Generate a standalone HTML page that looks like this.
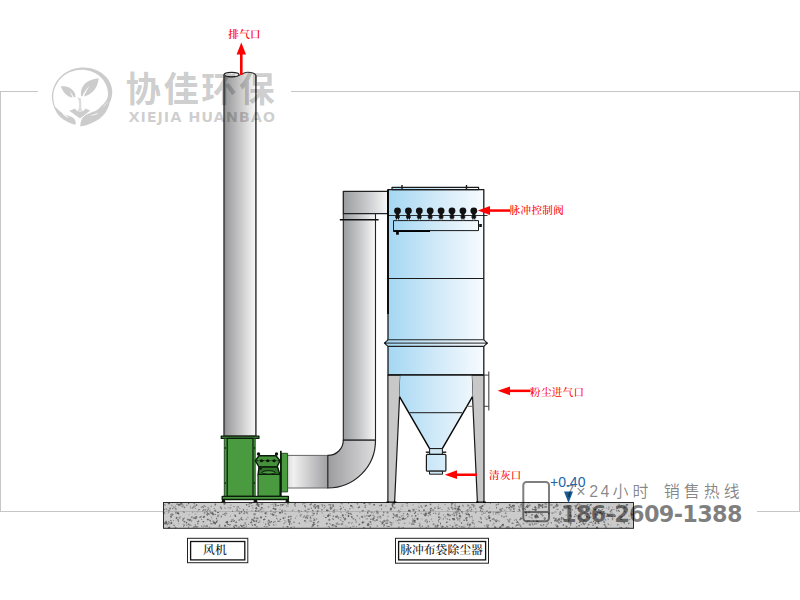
<!DOCTYPE html>
<html lang="zh-CN">
<head>
<meta charset="utf-8">
<title>脉冲布袋除尘器</title>
<style>
html,body{margin:0;padding:0;background:#fff;}
body{width:800px;height:600px;overflow:hidden;position:relative;font-family:"Liberation Sans","Noto Sans CJK SC",sans-serif;}
svg{display:block;position:absolute;left:0;top:0;}
.lbl{font-family:"Liberation Serif","Noto Serif CJK SC",serif;fill:#ff0000;font-size:10.5px;font-weight:500;letter-spacing:.4px;}
.cap{font-family:"Liberation Serif","Noto Serif CJK SC",serif;fill:#111;font-size:11.8px;font-weight:500;}
.wm1{font-family:"Liberation Sans","Noto Sans CJK SC",sans-serif;font-weight:700;font-size:35.4px;fill:#000;fill-opacity:.21;letter-spacing:2.5px;}
.wm2{font-family:"DejaVu Sans","Liberation Sans",sans-serif;font-weight:700;font-size:14.6px;fill:#000;fill-opacity:.2;letter-spacing:.85px;}
.tel1{font-family:"Liberation Sans","Noto Sans CJK SC",sans-serif;font-weight:400;font-size:16px;fill:#000;fill-opacity:.48;}
.tel2{font-family:"DejaVu Sans","Liberation Sans",sans-serif;font-weight:700;font-size:22.4px;fill:#000;fill-opacity:.5;letter-spacing:-.7px;}
.blue{font-family:"Liberation Sans",sans-serif;font-size:14px;fill:#1b64a5;}
</style>
</head>
<body>
<svg width="800" height="600" viewBox="0 0 800 600">
<defs>
<linearGradient id="gPipe" x1="0" x2="1" y1="0" y2="0"><stop offset="0" stop-color="#969698"/><stop offset=".5" stop-color="#c6c6c7"/><stop offset="1" stop-color="#f8f8f8"/></linearGradient>
<linearGradient id="gDuct" x1="0" x2="1" y1="0" y2="0"><stop offset="0" stop-color="#9a9c9f"/><stop offset=".5" stop-color="#c6c7c9"/><stop offset="1" stop-color="#f8f8f8"/></linearGradient>
<linearGradient id="gElb" x1="0" x2="1" y1="0" y2="0"><stop offset="0" stop-color="#9c9ca0"/><stop offset="1" stop-color="#dedede"/></linearGradient>
<linearGradient id="gHd" x1="0" x2="1" y1="0" y2="0"><stop offset="0" stop-color="#dedede"/><stop offset=".14" stop-color="#f0f0f0"/><stop offset=".5" stop-color="#cfcfd0"/><stop offset="1" stop-color="#a0a0a3"/></linearGradient>
<linearGradient id="gBlue" x1="0" x2="1" y1="0" y2="0"><stop offset="0" stop-color="#a4d7f3"/><stop offset=".5" stop-color="#d0e9f8"/><stop offset="1" stop-color="#f7fbfe"/></linearGradient>
<linearGradient id="gBlueU" gradientUnits="userSpaceOnUse" x1="388" x2="484" y1="0" y2="0"><stop offset="0" stop-color="#a4d7f3"/><stop offset=".5" stop-color="#d0e9f8"/><stop offset="1" stop-color="#f7fbfe"/></linearGradient>
</defs>

<!-- frame -->
<g fill="#c6c6c6">
<rect x="0" y="91" width="38" height="1"/>
<rect x="291" y="91" width="509" height="1"/>
<rect x="0" y="91" width="1" height="421"/>
<rect x="799" y="91" width="1" height="421"/>
<rect x="0" y="511" width="164" height="1"/>
<rect x="757" y="511" width="43" height="1"/>
</g>

<!-- ground slab -->
<g>
<rect x="163.5" y="502.5" width="470" height="26" fill="#cbcbcb"/>
<g transform="translate(163.5,502.5)"><rect x="151.4" y="4.0" width="2" height="1" rx=".5" fill="#5e5e5e" transform="rotate(-45 152.4 4.5)"/><rect x="251.3" y="8.7" width="1" height="2" rx=".5" fill="#6a6a6a" transform="rotate(0 251.8 9.7)"/><rect x="40.3" y="10.5" width="1" height="1" rx=".5" fill="#8e8e8e" transform="rotate(45 40.8 11.0)"/><rect x="27.7" y="13.6" width="1" height="2" rx=".5" fill="#5e5e5e" transform="rotate(60 28.2 14.6)"/><rect x="274.6" y="1.5" width="1" height="1" rx=".5" fill="#8e8e8e" transform="rotate(-45 275.1 2.0)"/><rect x="62.0" y="10.5" width="2" height="1" rx=".5" fill="#8e8e8e" transform="rotate(30 63.0 11.0)"/><rect x="262.8" y="16.4" width="1" height="2" rx=".5" fill="#8e8e8e" transform="rotate(-30 263.3 17.4)"/><rect x="87.6" y="2.7" width="2" height="1" rx=".5" fill="#8e8e8e" transform="rotate(0 88.6 3.2)"/><rect x="289.8" y="12.2" width="2" height="1.5" rx=".5" fill="#787878" transform="rotate(45 290.8 12.9)"/><rect x="274.4" y="11.4" width="1.5" height="1" rx=".5" fill="#6a6a6a" transform="rotate(-30 275.1 11.9)"/><rect x="365.5" y="1.8" width="1.5" height="2" rx=".5" fill="#848484" transform="rotate(30 366.2 2.8)"/><rect x="342.1" y="7.3" width="1" height="1" rx=".5" fill="#8e8e8e" transform="rotate(45 342.6 7.8)"/><rect x="77.1" y="8.4" width="1.5" height="1.5" rx=".5" fill="#5e5e5e" transform="rotate(-30 77.9 9.1)"/><rect x="35.7" y="13.7" width="2.5" height="1.5" rx=".5" fill="#787878" transform="rotate(-30 36.9 14.4)"/><rect x="163.5" y="12.2" width="2.5" height="1.5" rx=".5" fill="#5e5e5e" transform="rotate(-45 164.7 12.9)"/><rect x="43.4" y="6.9" width="2" height="1" rx=".5" fill="#5e5e5e" transform="rotate(-30 44.4 7.4)"/><rect x="328.5" y="15.8" width="2" height="1.5" rx=".5" fill="#787878" transform="rotate(-30 329.5 16.6)"/><rect x="180.9" y="16.4" width="1" height="1.5" rx=".5" fill="#787878" transform="rotate(0 181.4 17.1)"/><rect x="286.5" y="12.1" width="1" height="1.5" rx=".5" fill="#6a6a6a" transform="rotate(-30 287.0 12.8)"/><rect x="115.4" y="9.6" width="2.5" height="1.5" rx=".5" fill="#5e5e5e" transform="rotate(0 116.6 10.3)"/><rect x="210.7" y="13.5" width="1" height="1.5" rx=".5" fill="#8e8e8e" transform="rotate(30 211.2 14.2)"/><rect x="330.8" y="24.1" width="2" height="1.5" rx=".5" fill="#6a6a6a" transform="rotate(0 331.8 24.9)"/><rect x="38.4" y="4.0" width="2" height="1" rx=".5" fill="#5e5e5e" transform="rotate(45 39.4 4.5)"/><rect x="389.5" y="4.7" width="1.5" height="1" rx=".5" fill="#6a6a6a" transform="rotate(45 390.3 5.2)"/><rect x="250.5" y="15.2" width="1.5" height="1" rx=".5" fill="#9c9c9c" transform="rotate(-45 251.2 15.7)"/><rect x="241.3" y="15.4" width="2" height="1" rx=".5" fill="#848484" transform="rotate(-45 242.3 15.9)"/><rect x="365.1" y="21.1" width="2.5" height="2" rx=".5" fill="#848484" transform="rotate(45 366.3 22.1)"/><rect x="186.6" y="2.6" width="2" height="1.5" rx=".5" fill="#5e5e5e" transform="rotate(0 187.6 3.3)"/><rect x="31.6" y="5.4" width="1" height="1" rx=".5" fill="#787878" transform="rotate(60 32.1 5.9)"/><rect x="24.7" y="-0.2" width="1" height="2" rx=".5" fill="#5e5e5e" transform="rotate(30 25.2 0.8)"/><rect x="287.8" y="1.5" width="1" height="2" rx=".5" fill="#848484" transform="rotate(0 288.3 2.5)"/><rect x="297.0" y="23.4" width="2" height="1.5" rx=".5" fill="#848484" transform="rotate(0 298.0 24.1)"/><rect x="53.9" y="12.0" width="1.5" height="1.5" rx=".5" fill="#848484" transform="rotate(30 54.6 12.7)"/><rect x="40.0" y="2.5" width="1.5" height="1.5" rx=".5" fill="#848484" transform="rotate(-45 40.8 3.3)"/><rect x="324.6" y="12.4" width="1" height="2" rx=".5" fill="#787878" transform="rotate(0 325.1 13.4)"/><rect x="322.9" y="22.1" width="2.5" height="2" rx=".5" fill="#787878" transform="rotate(-30 324.1 23.1)"/><rect x="404.6" y="16.8" width="1.5" height="2" rx=".5" fill="#787878" transform="rotate(0 405.4 17.8)"/><rect x="166.3" y="5.2" width="2" height="2" rx=".5" fill="#787878" transform="rotate(-30 167.3 6.2)"/><rect x="103.9" y="20.1" width="2.5" height="1" rx=".5" fill="#6a6a6a" transform="rotate(-45 105.1 20.6)"/><rect x="187.9" y="19.4" width="1" height="2" rx=".5" fill="#848484" transform="rotate(30 188.4 20.4)"/><rect x="342.1" y="24.2" width="2.5" height="1.5" rx=".5" fill="#848484" transform="rotate(30 343.3 24.9)"/><rect x="90.6" y="14.8" width="1.5" height="1.5" rx=".5" fill="#9c9c9c" transform="rotate(30 91.3 15.6)"/><rect x="447.9" y="9.2" width="1" height="1" rx=".5" fill="#6a6a6a" transform="rotate(45 448.4 9.7)"/><rect x="91.8" y="4.8" width="2" height="2" rx=".5" fill="#5e5e5e" transform="rotate(45 92.8 5.8)"/><rect x="425.9" y="8.7" width="2" height="1" rx=".5" fill="#9c9c9c" transform="rotate(0 426.9 9.2)"/><rect x="425.9" y="19.4" width="2.5" height="1" rx=".5" fill="#848484" transform="rotate(0 427.2 19.9)"/><rect x="203.5" y="15.6" width="1" height="1.5" rx=".5" fill="#848484" transform="rotate(45 204.0 16.3)"/><rect x="348.6" y="2.4" width="1" height="1" rx=".5" fill="#6a6a6a" transform="rotate(0 349.1 2.9)"/><rect x="70.1" y="22.4" width="2.5" height="1" rx=".5" fill="#8e8e8e" transform="rotate(-45 71.4 22.9)"/><rect x="279.2" y="11.9" width="1.5" height="1" rx=".5" fill="#8e8e8e" transform="rotate(60 280.0 12.4)"/><rect x="60.9" y="0.6" width="2" height="1" rx=".5" fill="#8e8e8e" transform="rotate(-30 61.9 1.1)"/><rect x="437.1" y="10.9" width="2.5" height="1" rx=".5" fill="#6a6a6a" transform="rotate(0 438.4 11.4)"/><rect x="118.1" y="6.9" width="1" height="2" rx=".5" fill="#787878" transform="rotate(30 118.6 7.9)"/><rect x="255.3" y="20.4" width="1" height="1.5" rx=".5" fill="#848484" transform="rotate(-30 255.8 21.2)"/><rect x="273.3" y="21.9" width="1.5" height="2" rx=".5" fill="#6a6a6a" transform="rotate(60 274.1 22.9)"/><rect x="70.5" y="12.5" width="2.5" height="1.5" rx=".5" fill="#6a6a6a" transform="rotate(60 71.7 13.3)"/><rect x="1.8" y="19.8" width="1" height="1" rx=".5" fill="#848484" transform="rotate(60 2.3 20.3)"/><rect x="339.9" y="13.4" width="1.5" height="2" rx=".5" fill="#8e8e8e" transform="rotate(60 340.6 14.4)"/><rect x="225.8" y="19.2" width="2" height="1" rx=".5" fill="#6a6a6a" transform="rotate(0 226.8 19.7)"/><rect x="129.4" y="18.9" width="2" height="1.5" rx=".5" fill="#8e8e8e" transform="rotate(0 130.4 19.6)"/><rect x="356.2" y="22.3" width="1.5" height="1.5" rx=".5" fill="#8e8e8e" transform="rotate(60 356.9 23.1)"/><rect x="284.0" y="4.9" width="1.5" height="1.5" rx=".5" fill="#8e8e8e" transform="rotate(60 284.8 5.7)"/><rect x="378.7" y="12.2" width="1" height="2" rx=".5" fill="#787878" transform="rotate(60 379.2 13.2)"/><rect x="418.5" y="5.2" width="1.5" height="1" rx=".5" fill="#848484" transform="rotate(0 419.2 5.7)"/><rect x="183.5" y="8.0" width="2" height="1" rx=".5" fill="#848484" transform="rotate(0 184.5 8.5)"/><rect x="99.8" y="7.7" width="1" height="1" rx=".5" fill="#9c9c9c" transform="rotate(-30 100.3 8.2)"/><rect x="309.7" y="3.5" width="1" height="1.5" rx=".5" fill="#6a6a6a" transform="rotate(-30 310.2 4.3)"/><rect x="446.5" y="10.0" width="1.5" height="1" rx=".5" fill="#9c9c9c" transform="rotate(-45 447.2 10.5)"/><rect x="104.4" y="17.3" width="2" height="1.5" rx=".5" fill="#787878" transform="rotate(45 105.4 18.0)"/><rect x="91.3" y="7.8" width="2" height="1.5" rx=".5" fill="#5e5e5e" transform="rotate(30 92.3 8.6)"/><rect x="259.8" y="10.8" width="1" height="1.5" rx=".5" fill="#787878" transform="rotate(60 260.3 11.5)"/><rect x="292.6" y="12.8" width="1" height="1" rx=".5" fill="#6a6a6a" transform="rotate(0 293.1 13.3)"/><rect x="38.7" y="6.9" width="2.5" height="1" rx=".5" fill="#787878" transform="rotate(-45 39.9 7.4)"/><rect x="60.3" y="10.4" width="2" height="1.5" rx=".5" fill="#848484" transform="rotate(0 61.3 11.1)"/><rect x="251.4" y="12.6" width="1.5" height="1.5" rx=".5" fill="#5e5e5e" transform="rotate(30 252.2 13.4)"/><rect x="26.7" y="17.1" width="1.5" height="1" rx=".5" fill="#787878" transform="rotate(0 27.5 17.6)"/><rect x="297.6" y="19.4" width="1" height="2" rx=".5" fill="#6a6a6a" transform="rotate(0 298.1 20.4)"/><rect x="124.0" y="3.0" width="1" height="1.5" rx=".5" fill="#8e8e8e" transform="rotate(45 124.5 3.8)"/><rect x="434.6" y="6.8" width="1" height="1" rx=".5" fill="#8e8e8e" transform="rotate(-30 435.1 7.3)"/><rect x="111.8" y="2.7" width="1" height="1.5" rx=".5" fill="#5e5e5e" transform="rotate(0 112.3 3.5)"/><rect x="94.4" y="7.4" width="1.5" height="2" rx=".5" fill="#6a6a6a" transform="rotate(30 95.1 8.4)"/><rect x="208.8" y="16.5" width="1.5" height="1.5" rx=".5" fill="#5e5e5e" transform="rotate(30 209.5 17.2)"/><rect x="16.8" y="0.2" width="2" height="2" rx=".5" fill="#6a6a6a" transform="rotate(60 17.8 1.2)"/><rect x="222.7" y="22.9" width="1" height="1.5" rx=".5" fill="#9c9c9c" transform="rotate(45 223.2 23.6)"/><rect x="255.5" y="21.7" width="2" height="1.5" rx=".5" fill="#9c9c9c" transform="rotate(0 256.5 22.5)"/><rect x="460.0" y="8.7" width="2.5" height="1" rx=".5" fill="#848484" transform="rotate(30 461.3 9.2)"/><rect x="460.5" y="20.7" width="1" height="1" rx=".5" fill="#9c9c9c" transform="rotate(-30 461.0 21.2)"/><rect x="412.7" y="10.8" width="1" height="1" rx=".5" fill="#9c9c9c" transform="rotate(-45 413.2 11.3)"/><rect x="178.4" y="12.1" width="1.5" height="2" rx=".5" fill="#6a6a6a" transform="rotate(-30 179.1 13.1)"/><rect x="137.4" y="11.3" width="1" height="1.5" rx=".5" fill="#848484" transform="rotate(0 137.9 12.0)"/><rect x="123.0" y="23.5" width="2" height="1.5" rx=".5" fill="#6a6a6a" transform="rotate(0 124.0 24.3)"/><rect x="452.6" y="7.9" width="1.5" height="1" rx=".5" fill="#5e5e5e" transform="rotate(30 453.4 8.4)"/><rect x="178.5" y="11.9" width="2" height="1" rx=".5" fill="#6a6a6a" transform="rotate(60 179.5 12.4)"/><rect x="363.3" y="2.5" width="2.5" height="1" rx=".5" fill="#6a6a6a" transform="rotate(45 364.6 3.0)"/><rect x="275.0" y="9.7" width="1.5" height="1.5" rx=".5" fill="#9c9c9c" transform="rotate(0 275.7 10.4)"/><rect x="38.9" y="23.7" width="2.5" height="1" rx=".5" fill="#9c9c9c" transform="rotate(-30 40.1 24.2)"/><rect x="367.0" y="14.6" width="2.5" height="1.5" rx=".5" fill="#9c9c9c" transform="rotate(45 368.2 15.4)"/><rect x="69.6" y="18.0" width="2" height="1" rx=".5" fill="#5e5e5e" transform="rotate(-45 70.6 18.5)"/><rect x="391.3" y="21.8" width="2" height="1.5" rx=".5" fill="#9c9c9c" transform="rotate(-30 392.3 22.6)"/><rect x="380.4" y="3.2" width="2" height="2" rx=".5" fill="#8e8e8e" transform="rotate(-45 381.4 4.2)"/><rect x="380.8" y="0.2" width="2" height="2" rx=".5" fill="#9c9c9c" transform="rotate(-30 381.8 1.2)"/><rect x="448.4" y="16.0" width="1" height="1" rx=".5" fill="#5e5e5e" transform="rotate(0 448.9 16.5)"/><rect x="298.6" y="23.5" width="1.5" height="1.5" rx=".5" fill="#8e8e8e" transform="rotate(0 299.3 24.2)"/><rect x="293.9" y="15.6" width="2" height="1" rx=".5" fill="#848484" transform="rotate(30 294.9 16.1)"/><rect x="1.1" y="19.3" width="2" height="2" rx=".5" fill="#8e8e8e" transform="rotate(0 2.1 20.3)"/><rect x="308.7" y="1.7" width="2" height="1.5" rx=".5" fill="#787878" transform="rotate(-45 309.7 2.4)"/><rect x="34.4" y="6.8" width="2" height="1" rx=".5" fill="#6a6a6a" transform="rotate(-30 35.4 7.3)"/><rect x="304.1" y="11.3" width="2.5" height="1.5" rx=".5" fill="#5e5e5e" transform="rotate(45 305.3 12.0)"/><rect x="427.0" y="6.8" width="1" height="2" rx=".5" fill="#9c9c9c" transform="rotate(-30 427.5 7.8)"/><rect x="92.7" y="14.7" width="1.5" height="1.5" rx=".5" fill="#9c9c9c" transform="rotate(-30 93.5 15.4)"/><rect x="325.0" y="15.5" width="1" height="1" rx=".5" fill="#848484" transform="rotate(0 325.5 16.0)"/><rect x="227.8" y="24.0" width="1" height="1" rx=".5" fill="#9c9c9c" transform="rotate(45 228.3 24.5)"/><rect x="136.2" y="12.7" width="1.5" height="1.5" rx=".5" fill="#848484" transform="rotate(-45 136.9 13.4)"/><rect x="55.6" y="21.9" width="1" height="1.5" rx=".5" fill="#5e5e5e" transform="rotate(45 56.1 22.6)"/><rect x="7.5" y="11.0" width="2.5" height="2" rx=".5" fill="#848484" transform="rotate(30 8.7 12.0)"/><rect x="181.4" y="22.7" width="1" height="1" rx=".5" fill="#8e8e8e" transform="rotate(0 181.9 23.2)"/><rect x="66.2" y="13.1" width="1.5" height="1" rx=".5" fill="#8e8e8e" transform="rotate(-45 67.0 13.6)"/><rect x="296.3" y="6.9" width="1" height="1.5" rx=".5" fill="#6a6a6a" transform="rotate(45 296.8 7.6)"/><rect x="421.0" y="12.2" width="1" height="1" rx=".5" fill="#5e5e5e" transform="rotate(45 421.5 12.7)"/><rect x="319.2" y="10.2" width="2" height="1" rx=".5" fill="#848484" transform="rotate(30 320.2 10.7)"/><rect x="176.1" y="3.3" width="1.5" height="1" rx=".5" fill="#787878" transform="rotate(-45 176.9 3.8)"/><rect x="158.6" y="10.0" width="1" height="1" rx=".5" fill="#9c9c9c" transform="rotate(30 159.1 10.5)"/><rect x="118.5" y="1.4" width="1.5" height="2" rx=".5" fill="#5e5e5e" transform="rotate(30 119.3 2.4)"/><rect x="433.3" y="18.7" width="2.5" height="1" rx=".5" fill="#787878" transform="rotate(0 434.5 19.2)"/><rect x="23.7" y="16.5" width="2" height="1" rx=".5" fill="#6a6a6a" transform="rotate(30 24.7 17.0)"/><rect x="203.8" y="7.8" width="2.5" height="1.5" rx=".5" fill="#848484" transform="rotate(0 205.1 8.5)"/><rect x="380.3" y="15.2" width="2" height="2" rx=".5" fill="#6a6a6a" transform="rotate(-30 381.3 16.2)"/><rect x="37.5" y="22.8" width="1.5" height="1.5" rx=".5" fill="#8e8e8e" transform="rotate(-45 38.3 23.6)"/><rect x="64.7" y="21.5" width="1.5" height="1" rx=".5" fill="#8e8e8e" transform="rotate(0 65.5 22.0)"/><rect x="79.8" y="10.2" width="1.5" height="1.5" rx=".5" fill="#787878" transform="rotate(-30 80.6 10.9)"/><rect x="346.2" y="16.2" width="1.5" height="1" rx=".5" fill="#787878" transform="rotate(45 347.0 16.7)"/><rect x="261.4" y="9.9" width="1" height="1" rx=".5" fill="#5e5e5e" transform="rotate(0 261.9 10.4)"/><rect x="234.3" y="20.1" width="2" height="1" rx=".5" fill="#848484" transform="rotate(30 235.3 20.6)"/><rect x="467.3" y="10.8" width="1" height="2" rx=".5" fill="#6a6a6a" transform="rotate(0 467.8 11.8)"/><rect x="42.5" y="8.4" width="1" height="1.5" rx=".5" fill="#6a6a6a" transform="rotate(30 43.0 9.1)"/><rect x="121.2" y="13.9" width="1" height="1.5" rx=".5" fill="#848484" transform="rotate(45 121.7 14.7)"/><rect x="349.5" y="5.2" width="1.5" height="1.5" rx=".5" fill="#5e5e5e" transform="rotate(45 350.3 5.9)"/><rect x="130.2" y="23.4" width="1" height="2" rx=".5" fill="#8e8e8e" transform="rotate(-30 130.7 24.4)"/><rect x="370.7" y="20.8" width="1" height="1.5" rx=".5" fill="#6a6a6a" transform="rotate(45 371.2 21.5)"/><rect x="187.2" y="11.2" width="1.5" height="1" rx=".5" fill="#6a6a6a" transform="rotate(0 188.0 11.7)"/><rect x="198.7" y="18.7" width="2.5" height="1.5" rx=".5" fill="#8e8e8e" transform="rotate(45 199.9 19.4)"/><rect x="-0.7" y="9.4" width="2.5" height="2" rx=".5" fill="#848484" transform="rotate(45 0.6 10.4)"/><rect x="116.5" y="3.0" width="1" height="1" rx=".5" fill="#8e8e8e" transform="rotate(-30 117.0 3.5)"/><rect x="50.6" y="20.2" width="2" height="1.5" rx=".5" fill="#5e5e5e" transform="rotate(60 51.6 20.9)"/><rect x="364.3" y="0.3" width="1" height="1" rx=".5" fill="#8e8e8e" transform="rotate(0 364.8 0.8)"/><rect x="302.7" y="7.5" width="1" height="1.5" rx=".5" fill="#8e8e8e" transform="rotate(-30 303.2 8.2)"/><rect x="205.2" y="18.9" width="1" height="1" rx=".5" fill="#787878" transform="rotate(60 205.7 19.4)"/><rect x="442.3" y="5.0" width="1.5" height="1" rx=".5" fill="#8e8e8e" transform="rotate(0 443.0 5.5)"/><rect x="4.7" y="7.4" width="1.5" height="1.5" rx=".5" fill="#787878" transform="rotate(-30 5.4 8.2)"/><rect x="393.2" y="6.2" width="2" height="1" rx=".5" fill="#8e8e8e" transform="rotate(0 394.2 6.7)"/><rect x="13.2" y="10.1" width="2" height="1.5" rx=".5" fill="#5e5e5e" transform="rotate(0 14.2 10.8)"/><rect x="90.5" y="21.6" width="2" height="1.5" rx=".5" fill="#5e5e5e" transform="rotate(30 91.5 22.4)"/><rect x="106.6" y="10.7" width="1.5" height="1" rx=".5" fill="#848484" transform="rotate(0 107.4 11.2)"/><rect x="326.1" y="17.6" width="1.5" height="1.5" rx=".5" fill="#6a6a6a" transform="rotate(0 326.8 18.3)"/><rect x="373.3" y="18.3" width="2" height="1" rx=".5" fill="#6a6a6a" transform="rotate(45 374.3 18.8)"/><rect x="454.1" y="7.9" width="2.5" height="1" rx=".5" fill="#6a6a6a" transform="rotate(45 455.4 8.4)"/><rect x="103.6" y="18.9" width="1.5" height="1" rx=".5" fill="#8e8e8e" transform="rotate(45 104.4 19.4)"/><rect x="285.9" y="21.9" width="1.5" height="1.5" rx=".5" fill="#9c9c9c" transform="rotate(0 286.6 22.7)"/><rect x="444.7" y="3.9" width="1.5" height="1" rx=".5" fill="#6a6a6a" transform="rotate(0 445.5 4.4)"/><rect x="456.9" y="3.8" width="1" height="1" rx=".5" fill="#6a6a6a" transform="rotate(45 457.4 4.3)"/><rect x="210.6" y="17.7" width="1.5" height="1" rx=".5" fill="#5e5e5e" transform="rotate(0 211.4 18.2)"/><rect x="153.9" y="4.6" width="2" height="1.5" rx=".5" fill="#5e5e5e" transform="rotate(30 154.9 5.3)"/><rect x="311.4" y="9.3" width="1.5" height="1.5" rx=".5" fill="#848484" transform="rotate(0 312.1 10.0)"/><rect x="51.1" y="2.0" width="1" height="1.5" rx=".5" fill="#848484" transform="rotate(0 51.6 2.7)"/><rect x="262.9" y="18.6" width="1.5" height="1.5" rx=".5" fill="#787878" transform="rotate(-45 263.7 19.3)"/><rect x="376.5" y="2.2" width="2" height="1.5" rx=".5" fill="#6a6a6a" transform="rotate(30 377.5 2.9)"/><rect x="253.7" y="10.9" width="1.5" height="1.5" rx=".5" fill="#9c9c9c" transform="rotate(45 254.5 11.7)"/><rect x="13.5" y="10.1" width="2.5" height="1.5" rx=".5" fill="#5e5e5e" transform="rotate(45 14.7 10.8)"/><rect x="16.3" y="1.6" width="1" height="1.5" rx=".5" fill="#6a6a6a" transform="rotate(-30 16.8 2.3)"/><rect x="29.2" y="14.8" width="1.5" height="1.5" rx=".5" fill="#787878" transform="rotate(60 30.0 15.6)"/><rect x="19.9" y="18.3" width="2" height="1.5" rx=".5" fill="#787878" transform="rotate(30 20.9 19.0)"/><rect x="1.0" y="18.7" width="2.5" height="1" rx=".5" fill="#5e5e5e" transform="rotate(-45 2.3 19.2)"/><rect x="109.4" y="11.6" width="1.5" height="1.5" rx=".5" fill="#787878" transform="rotate(45 110.2 12.4)"/><rect x="381.9" y="3.5" width="1.5" height="1" rx=".5" fill="#5e5e5e" transform="rotate(-45 382.6 4.0)"/><rect x="436.2" y="7.7" width="2" height="1" rx=".5" fill="#8e8e8e" transform="rotate(0 437.2 8.2)"/><rect x="153.5" y="7.6" width="1.5" height="2" rx=".5" fill="#5e5e5e" transform="rotate(60 154.2 8.6)"/><rect x="92.5" y="18.4" width="1" height="1.5" rx=".5" fill="#5e5e5e" transform="rotate(-30 93.0 19.2)"/><rect x="15.6" y="13.8" width="1.5" height="1" rx=".5" fill="#848484" transform="rotate(0 16.4 14.3)"/><rect x="463.3" y="6.8" width="1" height="1" rx=".5" fill="#5e5e5e" transform="rotate(45 463.8 7.3)"/><rect x="233.5" y="17.6" width="1.5" height="1" rx=".5" fill="#6a6a6a" transform="rotate(0 234.3 18.1)"/><rect x="195.0" y="15.4" width="2" height="1" rx=".5" fill="#9c9c9c" transform="rotate(60 196.0 15.9)"/><rect x="397.2" y="16.3" width="1" height="1.5" rx=".5" fill="#787878" transform="rotate(30 397.7 17.0)"/><rect x="265.4" y="9.2" width="2" height="1.5" rx=".5" fill="#6a6a6a" transform="rotate(45 266.4 9.9)"/><rect x="116.0" y="6.0" width="1" height="1.5" rx=".5" fill="#8e8e8e" transform="rotate(0 116.5 6.8)"/><rect x="153.1" y="9.5" width="1" height="2" rx=".5" fill="#8e8e8e" transform="rotate(0 153.6 10.5)"/><rect x="304.4" y="2.8" width="1.5" height="1" rx=".5" fill="#5e5e5e" transform="rotate(0 305.2 3.3)"/><rect x="221.9" y="20.0" width="2.5" height="1.5" rx=".5" fill="#787878" transform="rotate(0 223.2 20.8)"/><rect x="411.3" y="6.0" width="1" height="1" rx=".5" fill="#8e8e8e" transform="rotate(-45 411.8 6.5)"/><rect x="273.3" y="22.5" width="1.5" height="2" rx=".5" fill="#6a6a6a" transform="rotate(45 274.0 23.5)"/><rect x="282.3" y="19.2" width="2" height="1" rx=".5" fill="#5e5e5e" transform="rotate(-30 283.3 19.7)"/><rect x="279.6" y="15.4" width="1" height="1" rx=".5" fill="#787878" transform="rotate(30 280.1 15.9)"/><rect x="66.1" y="5.3" width="1.5" height="1" rx=".5" fill="#8e8e8e" transform="rotate(-30 66.8 5.8)"/><rect x="305.6" y="5.0" width="1" height="1.5" rx=".5" fill="#848484" transform="rotate(-30 306.1 5.8)"/><rect x="174.4" y="15.5" width="1" height="1" rx=".5" fill="#5e5e5e" transform="rotate(-45 174.9 16.0)"/><rect x="232.2" y="12.1" width="1.5" height="1" rx=".5" fill="#848484" transform="rotate(-30 232.9 12.6)"/><rect x="258.0" y="15.9" width="1" height="1" rx=".5" fill="#848484" transform="rotate(-30 258.5 16.4)"/><rect x="126.7" y="24.2" width="2" height="1.5" rx=".5" fill="#848484" transform="rotate(0 127.7 24.9)"/><rect x="146.2" y="13.9" width="1.5" height="1.5" rx=".5" fill="#848484" transform="rotate(0 147.0 14.6)"/><rect x="405.1" y="24.6" width="1.5" height="1" rx=".5" fill="#848484" transform="rotate(-30 405.8 25.1)"/><rect x="189.7" y="23.3" width="1.5" height="1" rx=".5" fill="#848484" transform="rotate(0 190.4 23.8)"/><rect x="384.5" y="10.0" width="1.5" height="1.5" rx=".5" fill="#6a6a6a" transform="rotate(0 385.3 10.7)"/><rect x="6.5" y="13.5" width="2" height="1.5" rx=".5" fill="#5e5e5e" transform="rotate(60 7.5 14.3)"/><rect x="291.3" y="9.3" width="2" height="1" rx=".5" fill="#6a6a6a" transform="rotate(30 292.3 9.8)"/><rect x="132.9" y="13.0" width="1" height="1" rx=".5" fill="#848484" transform="rotate(45 133.4 13.5)"/><rect x="352.7" y="19.6" width="2.5" height="1" rx=".5" fill="#787878" transform="rotate(0 353.9 20.1)"/><rect x="392.4" y="1.1" width="1.5" height="1.5" rx=".5" fill="#5e5e5e" transform="rotate(60 393.2 1.9)"/><rect x="433.9" y="9.3" width="2" height="2" rx=".5" fill="#9c9c9c" transform="rotate(-45 434.9 10.3)"/><rect x="417.2" y="15.9" width="2.5" height="1" rx=".5" fill="#8e8e8e" transform="rotate(45 418.4 16.4)"/><rect x="288.1" y="5.1" width="1.5" height="1" rx=".5" fill="#8e8e8e" transform="rotate(0 288.8 5.6)"/><rect x="19.6" y="23.0" width="1" height="1.5" rx=".5" fill="#787878" transform="rotate(0 20.1 23.7)"/><rect x="69.4" y="24.0" width="2.5" height="1" rx=".5" fill="#5e5e5e" transform="rotate(60 70.6 24.5)"/><rect x="394.6" y="16.5" width="2" height="1.5" rx=".5" fill="#5e5e5e" transform="rotate(45 395.6 17.2)"/><rect x="280.7" y="13.5" width="2" height="1.5" rx=".5" fill="#9c9c9c" transform="rotate(45 281.7 14.2)"/><rect x="144.3" y="6.1" width="1.5" height="1.5" rx=".5" fill="#848484" transform="rotate(60 145.1 6.9)"/><rect x="205.1" y="0.6" width="2" height="1.5" rx=".5" fill="#848484" transform="rotate(0 206.1 1.4)"/><rect x="208.8" y="15.1" width="2.5" height="1.5" rx=".5" fill="#6a6a6a" transform="rotate(-45 210.1 15.9)"/><rect x="221.9" y="2.7" width="1" height="1.5" rx=".5" fill="#848484" transform="rotate(30 222.4 3.4)"/><rect x="42.5" y="11.1" width="2" height="1" rx=".5" fill="#5e5e5e" transform="rotate(-30 43.5 11.6)"/><rect x="60.8" y="22.3" width="1.5" height="2" rx=".5" fill="#5e5e5e" transform="rotate(0 61.6 23.3)"/><rect x="352.2" y="22.1" width="2" height="1" rx=".5" fill="#5e5e5e" transform="rotate(-45 353.2 22.6)"/><rect x="30.6" y="15.3" width="2" height="1" rx=".5" fill="#6a6a6a" transform="rotate(0 31.6 15.8)"/><rect x="459.7" y="12.3" width="2.5" height="1" rx=".5" fill="#9c9c9c" transform="rotate(-45 460.9 12.8)"/><rect x="337.4" y="5.4" width="2.5" height="1.5" rx=".5" fill="#8e8e8e" transform="rotate(-45 338.7 6.2)"/><rect x="117.8" y="8.0" width="2" height="1.5" rx=".5" fill="#848484" transform="rotate(0 118.8 8.7)"/><rect x="119.0" y="23.8" width="1.5" height="1" rx=".5" fill="#8e8e8e" transform="rotate(30 119.7 24.3)"/><rect x="288.6" y="6.1" width="1.5" height="1" rx=".5" fill="#6a6a6a" transform="rotate(0 289.3 6.6)"/><rect x="189.0" y="15.6" width="1.5" height="1.5" rx=".5" fill="#848484" transform="rotate(0 189.7 16.3)"/><rect x="370.8" y="6.2" width="2.5" height="2" rx=".5" fill="#5e5e5e" transform="rotate(-30 372.0 7.2)"/><rect x="402.3" y="23.4" width="1.5" height="2" rx=".5" fill="#8e8e8e" transform="rotate(60 403.0 24.4)"/><rect x="322.8" y="21.7" width="1.5" height="2" rx=".5" fill="#9c9c9c" transform="rotate(-45 323.5 22.7)"/><rect x="184.7" y="19.5" width="1.5" height="1.5" rx=".5" fill="#787878" transform="rotate(60 185.4 20.3)"/><rect x="68.6" y="8.1" width="1" height="1.5" rx=".5" fill="#6a6a6a" transform="rotate(0 69.1 8.9)"/><rect x="288.4" y="23.2" width="1.5" height="2" rx=".5" fill="#787878" transform="rotate(30 289.1 24.2)"/><rect x="299.3" y="24.1" width="2" height="1.5" rx=".5" fill="#9c9c9c" transform="rotate(0 300.3 24.8)"/><rect x="350.1" y="5.2" width="1.5" height="2" rx=".5" fill="#9c9c9c" transform="rotate(45 350.9 6.2)"/><rect x="195.9" y="9.2" width="1" height="1" rx=".5" fill="#848484" transform="rotate(0 196.4 9.7)"/><rect x="287.3" y="1.4" width="1" height="1" rx=".5" fill="#8e8e8e" transform="rotate(30 287.8 1.9)"/><rect x="142.0" y="13.1" width="2" height="1" rx=".5" fill="#848484" transform="rotate(60 143.0 13.6)"/><rect x="141.0" y="3.1" width="1.5" height="2" rx=".5" fill="#848484" transform="rotate(0 141.7 4.1)"/><rect x="63.2" y="23.2" width="1" height="1" rx=".5" fill="#848484" transform="rotate(0 63.7 23.7)"/><rect x="29.4" y="3.6" width="2" height="1.5" rx=".5" fill="#848484" transform="rotate(-45 30.4 4.3)"/><rect x="123.4" y="0.1" width="2" height="2" rx=".5" fill="#787878" transform="rotate(60 124.4 1.1)"/><rect x="302.3" y="10.9" width="2" height="1.5" rx=".5" fill="#6a6a6a" transform="rotate(0 303.3 11.6)"/><rect x="423.2" y="1.4" width="2" height="1" rx=".5" fill="#848484" transform="rotate(0 424.2 1.9)"/><rect x="110.7" y="1.7" width="2.5" height="1" rx=".5" fill="#5e5e5e" transform="rotate(60 112.0 2.2)"/><rect x="258.4" y="23.0" width="1" height="1.5" rx=".5" fill="#6a6a6a" transform="rotate(60 258.9 23.8)"/><rect x="284.7" y="12.4" width="2" height="1.5" rx=".5" fill="#8e8e8e" transform="rotate(0 285.7 13.2)"/><rect x="238.0" y="1.9" width="2" height="1" rx=".5" fill="#9c9c9c" transform="rotate(-45 239.0 2.4)"/><rect x="223.9" y="13.2" width="1.5" height="1.5" rx=".5" fill="#9c9c9c" transform="rotate(45 224.6 13.9)"/><rect x="37.7" y="16.3" width="1" height="1" rx=".5" fill="#5e5e5e" transform="rotate(30 38.2 16.8)"/><rect x="108.7" y="1.0" width="1.5" height="1.5" rx=".5" fill="#9c9c9c" transform="rotate(0 109.4 1.7)"/><rect x="124.5" y="13.3" width="1.5" height="2" rx=".5" fill="#787878" transform="rotate(30 125.2 14.3)"/><rect x="301.1" y="23.8" width="1" height="1" rx=".5" fill="#8e8e8e" transform="rotate(0 301.6 24.3)"/><rect x="78.9" y="22.4" width="2.5" height="1" rx=".5" fill="#6a6a6a" transform="rotate(-30 80.1 22.9)"/><rect x="428.9" y="4.7" width="1.5" height="1.5" rx=".5" fill="#8e8e8e" transform="rotate(0 429.6 5.5)"/><rect x="177.5" y="20.6" width="2" height="2" rx=".5" fill="#848484" transform="rotate(45 178.5 21.6)"/><rect x="393.1" y="17.3" width="2.5" height="1" rx=".5" fill="#848484" transform="rotate(-30 394.3 17.8)"/><rect x="108.9" y="21.9" width="2.5" height="1" rx=".5" fill="#848484" transform="rotate(60 110.2 22.4)"/><rect x="274.5" y="14.1" width="1" height="1" rx=".5" fill="#5e5e5e" transform="rotate(0 275.0 14.6)"/><rect x="52.5" y="15.2" width="1" height="1.5" rx=".5" fill="#6a6a6a" transform="rotate(-30 53.0 16.0)"/><rect x="13.0" y="1.3" width="2" height="1" rx=".5" fill="#9c9c9c" transform="rotate(0 14.0 1.8)"/><rect x="345.1" y="1.7" width="2" height="1.5" rx=".5" fill="#6a6a6a" transform="rotate(-45 346.1 2.4)"/><rect x="447.2" y="13.3" width="2" height="1" rx=".5" fill="#9c9c9c" transform="rotate(45 448.2 13.8)"/><rect x="50.2" y="5.3" width="1" height="1" rx=".5" fill="#5e5e5e" transform="rotate(-45 50.7 5.8)"/><rect x="427.3" y="18.4" width="1" height="1.5" rx=".5" fill="#848484" transform="rotate(0 427.8 19.2)"/><rect x="61.7" y="19.6" width="2" height="1" rx=".5" fill="#787878" transform="rotate(30 62.7 20.1)"/><rect x="157.6" y="6.4" width="1.5" height="1.5" rx=".5" fill="#787878" transform="rotate(0 158.3 7.2)"/><rect x="335.4" y="8.8" width="1.5" height="2" rx=".5" fill="#8e8e8e" transform="rotate(45 336.2 9.8)"/><rect x="399.3" y="15.1" width="1" height="1.5" rx=".5" fill="#5e5e5e" transform="rotate(45 399.8 15.9)"/><rect x="243.0" y="2.7" width="1.5" height="1" rx=".5" fill="#8e8e8e" transform="rotate(60 243.7 3.2)"/><rect x="101.6" y="20.8" width="1" height="2" rx=".5" fill="#787878" transform="rotate(0 102.1 21.8)"/><rect x="204.3" y="13.1" width="1.5" height="1" rx=".5" fill="#5e5e5e" transform="rotate(30 205.0 13.6)"/><rect x="229.4" y="12.3" width="2.5" height="1" rx=".5" fill="#848484" transform="rotate(60 230.7 12.8)"/><rect x="162.6" y="20.1" width="1.5" height="2" rx=".5" fill="#6a6a6a" transform="rotate(30 163.3 21.1)"/><rect x="382.3" y="22.9" width="1" height="1.5" rx=".5" fill="#6a6a6a" transform="rotate(0 382.8 23.7)"/><rect x="440.0" y="18.5" width="1.5" height="2" rx=".5" fill="#5e5e5e" transform="rotate(-30 440.8 19.5)"/><rect x="152.9" y="2.6" width="1.5" height="1" rx=".5" fill="#848484" transform="rotate(-30 153.7 3.1)"/><rect x="11.6" y="5.1" width="1.5" height="1.5" rx=".5" fill="#8e8e8e" transform="rotate(60 12.3 5.8)"/><rect x="79.7" y="24.3" width="2" height="1" rx=".5" fill="#848484" transform="rotate(0 80.7 24.8)"/><rect x="248.5" y="18.2" width="2.5" height="2" rx=".5" fill="#9c9c9c" transform="rotate(0 249.8 19.2)"/><rect x="163.4" y="8.0" width="1" height="1.5" rx=".5" fill="#9c9c9c" transform="rotate(60 163.9 8.8)"/><rect x="347.7" y="4.2" width="1.5" height="1.5" rx=".5" fill="#8e8e8e" transform="rotate(0 348.5 4.9)"/><rect x="58.6" y="11.6" width="2" height="1" rx=".5" fill="#8e8e8e" transform="rotate(0 59.6 12.1)"/><rect x="124.7" y="18.2" width="2.5" height="2" rx=".5" fill="#6a6a6a" transform="rotate(-30 125.9 19.2)"/><rect x="72.9" y="5.8" width="1.5" height="2" rx=".5" fill="#8e8e8e" transform="rotate(30 73.7 6.8)"/><rect x="75.5" y="8.1" width="1" height="1.5" rx=".5" fill="#9c9c9c" transform="rotate(0 76.0 8.8)"/><rect x="77.2" y="16.1" width="1" height="1.5" rx=".5" fill="#6a6a6a" transform="rotate(0 77.7 16.9)"/><rect x="372.6" y="17.9" width="1.5" height="1.5" rx=".5" fill="#6a6a6a" transform="rotate(0 373.3 18.7)"/><rect x="299.2" y="2.7" width="1" height="1.5" rx=".5" fill="#848484" transform="rotate(0 299.7 3.4)"/><rect x="5.7" y="21.1" width="1.5" height="1" rx=".5" fill="#8e8e8e" transform="rotate(-30 6.4 21.6)"/><rect x="138.7" y="0.3" width="1.5" height="2" rx=".5" fill="#9c9c9c" transform="rotate(45 139.4 1.3)"/><rect x="1.8" y="6.0" width="2.5" height="1.5" rx=".5" fill="#9c9c9c" transform="rotate(60 3.1 6.7)"/><rect x="274.8" y="16.1" width="2.5" height="1" rx=".5" fill="#9c9c9c" transform="rotate(-30 276.0 16.6)"/><rect x="305.5" y="21.2" width="2" height="2" rx=".5" fill="#6a6a6a" transform="rotate(-30 306.5 22.2)"/><rect x="84.9" y="3.1" width="1.5" height="1.5" rx=".5" fill="#787878" transform="rotate(-30 85.6 3.8)"/><rect x="328.6" y="21.9" width="1" height="1.5" rx=".5" fill="#9c9c9c" transform="rotate(-30 329.1 22.6)"/><rect x="295.0" y="6.2" width="1.5" height="1.5" rx=".5" fill="#848484" transform="rotate(0 295.8 6.9)"/><rect x="291.0" y="10.3" width="2" height="1" rx=".5" fill="#9c9c9c" transform="rotate(30 292.0 10.8)"/><rect x="364.7" y="9.8" width="1.5" height="1" rx=".5" fill="#5e5e5e" transform="rotate(30 365.5 10.3)"/><rect x="254.1" y="4.2" width="2.5" height="1" rx=".5" fill="#8e8e8e" transform="rotate(30 255.3 4.7)"/><rect x="46.9" y="14.3" width="2" height="1" rx=".5" fill="#9c9c9c" transform="rotate(45 47.9 14.8)"/><rect x="239.5" y="15.6" width="2.5" height="1.5" rx=".5" fill="#8e8e8e" transform="rotate(30 240.7 16.4)"/><rect x="192.5" y="23.4" width="1" height="1" rx=".5" fill="#848484" transform="rotate(60 193.0 23.9)"/><rect x="357.2" y="3.0" width="2" height="1.5" rx=".5" fill="#9c9c9c" transform="rotate(0 358.2 3.8)"/><rect x="118.4" y="9.6" width="1" height="1" rx=".5" fill="#5e5e5e" transform="rotate(45 118.9 10.1)"/><rect x="428.8" y="15.4" width="2" height="1.5" rx=".5" fill="#8e8e8e" transform="rotate(30 429.8 16.1)"/><rect x="51.0" y="7.2" width="1.5" height="2" rx=".5" fill="#6a6a6a" transform="rotate(-45 51.7 8.2)"/><rect x="450.6" y="11.6" width="1" height="1" rx=".5" fill="#5e5e5e" transform="rotate(-45 451.1 12.1)"/><rect x="373.9" y="4.5" width="2" height="2" rx=".5" fill="#9c9c9c" transform="rotate(0 374.9 5.5)"/><rect x="381.6" y="3.6" width="2" height="1.5" rx=".5" fill="#848484" transform="rotate(30 382.6 4.4)"/><rect x="355.6" y="15.9" width="2.5" height="1.5" rx=".5" fill="#787878" transform="rotate(-45 356.9 16.7)"/><rect x="398.7" y="6.6" width="1.5" height="1.5" rx=".5" fill="#848484" transform="rotate(-30 399.5 7.3)"/><rect x="86.7" y="0.1" width="2" height="1.5" rx=".5" fill="#787878" transform="rotate(0 87.7 0.9)"/><rect x="306.7" y="7.9" width="1.5" height="1.5" rx=".5" fill="#8e8e8e" transform="rotate(-30 307.4 8.6)"/><rect x="40.1" y="21.9" width="1" height="1.5" rx=".5" fill="#848484" transform="rotate(0 40.6 22.7)"/><rect x="39.7" y="14.1" width="1.5" height="1" rx=".5" fill="#8e8e8e" transform="rotate(-45 40.5 14.6)"/><rect x="161.4" y="14.5" width="2" height="1" rx=".5" fill="#6a6a6a" transform="rotate(0 162.4 15.0)"/><rect x="307.6" y="5.9" width="1" height="2" rx=".5" fill="#6a6a6a" transform="rotate(-45 308.1 6.9)"/><rect x="109.3" y="19.2" width="1.5" height="1" rx=".5" fill="#6a6a6a" transform="rotate(45 110.1 19.7)"/><rect x="370.8" y="3.9" width="2" height="2" rx=".5" fill="#5e5e5e" transform="rotate(-30 371.8 4.9)"/><rect x="422.4" y="13.4" width="2" height="1.5" rx=".5" fill="#6a6a6a" transform="rotate(45 423.4 14.2)"/><rect x="324.4" y="13.0" width="2" height="1.5" rx=".5" fill="#9c9c9c" transform="rotate(0 325.4 13.8)"/><rect x="260.3" y="6.8" width="1" height="1" rx=".5" fill="#848484" transform="rotate(45 260.8 7.3)"/><rect x="261.3" y="11.9" width="1" height="1.5" rx=".5" fill="#6a6a6a" transform="rotate(45 261.8 12.6)"/><rect x="76.7" y="14.9" width="2" height="1" rx=".5" fill="#6a6a6a" transform="rotate(-45 77.7 15.4)"/><rect x="150.2" y="17.0" width="1.5" height="1.5" rx=".5" fill="#848484" transform="rotate(30 150.9 17.8)"/><rect x="199.2" y="24.7" width="2" height="1" rx=".5" fill="#6a6a6a" transform="rotate(-30 200.2 25.2)"/><rect x="169.0" y="15.6" width="1" height="2" rx=".5" fill="#5e5e5e" transform="rotate(-30 169.5 16.6)"/><rect x="344.7" y="24.7" width="2.5" height="1" rx=".5" fill="#8e8e8e" transform="rotate(45 345.9 25.2)"/><rect x="227.3" y="22.2" width="1" height="1" rx=".5" fill="#9c9c9c" transform="rotate(45 227.8 22.7)"/><rect x="292.5" y="8.3" width="2.5" height="1.5" rx=".5" fill="#787878" transform="rotate(45 293.8 9.1)"/><rect x="365.1" y="13.6" width="1" height="1.5" rx=".5" fill="#848484" transform="rotate(30 365.6 14.3)"/><rect x="197.4" y="13.6" width="2.5" height="1.5" rx=".5" fill="#787878" transform="rotate(30 198.6 14.3)"/><rect x="387.7" y="9.9" width="2" height="1.5" rx=".5" fill="#8e8e8e" transform="rotate(30 388.7 10.7)"/><rect x="456.5" y="16.3" width="2.5" height="1" rx=".5" fill="#787878" transform="rotate(0 457.8 16.8)"/><rect x="148.2" y="7.6" width="2" height="1" rx=".5" fill="#5e5e5e" transform="rotate(45 149.2 8.1)"/><rect x="338.4" y="21.4" width="2" height="2" rx=".5" fill="#5e5e5e" transform="rotate(45 339.4 22.4)"/><rect x="140.9" y="0.2" width="1" height="1.5" rx=".5" fill="#8e8e8e" transform="rotate(-45 141.4 1.0)"/><rect x="308.1" y="19.1" width="2" height="2" rx=".5" fill="#848484" transform="rotate(60 309.1 20.1)"/><rect x="68.5" y="16.2" width="2" height="2" rx=".5" fill="#9c9c9c" transform="rotate(0 69.5 17.2)"/><rect x="99.4" y="16.6" width="1.5" height="1" rx=".5" fill="#5e5e5e" transform="rotate(-30 100.2 17.1)"/><rect x="84.3" y="1.2" width="2.5" height="1" rx=".5" fill="#9c9c9c" transform="rotate(0 85.5 1.7)"/><rect x="172.2" y="20.1" width="2.5" height="1.5" rx=".5" fill="#8e8e8e" transform="rotate(-30 173.5 20.9)"/><rect x="120.8" y="7.7" width="1.5" height="1" rx=".5" fill="#787878" transform="rotate(0 121.5 8.2)"/><rect x="202.0" y="15.7" width="1" height="1.5" rx=".5" fill="#8e8e8e" transform="rotate(60 202.5 16.5)"/><rect x="17.7" y="2.9" width="2.5" height="1.5" rx=".5" fill="#8e8e8e" transform="rotate(-30 19.0 3.7)"/><rect x="430.8" y="10.9" width="1" height="1.5" rx=".5" fill="#8e8e8e" transform="rotate(60 431.3 11.7)"/><rect x="465.8" y="16.1" width="1" height="1.5" rx=".5" fill="#848484" transform="rotate(60 466.3 16.9)"/><rect x="47.9" y="16.0" width="1" height="1" rx=".5" fill="#9c9c9c" transform="rotate(0 48.4 16.5)"/><rect x="199.8" y="0.5" width="2" height="1" rx=".5" fill="#5e5e5e" transform="rotate(0 200.8 1.0)"/><rect x="407.8" y="3.2" width="1" height="1.5" rx=".5" fill="#9c9c9c" transform="rotate(60 408.3 3.9)"/><rect x="113.6" y="18.2" width="1" height="1" rx=".5" fill="#787878" transform="rotate(-45 114.1 18.7)"/><rect x="350.5" y="17.3" width="1" height="1" rx=".5" fill="#787878" transform="rotate(-30 351.0 17.8)"/><rect x="261.0" y="12.2" width="2" height="1.5" rx=".5" fill="#5e5e5e" transform="rotate(-30 262.0 13.0)"/><rect x="14.5" y="1.3" width="2" height="2" rx=".5" fill="#5e5e5e" transform="rotate(45 15.5 2.3)"/><rect x="145.9" y="17.8" width="1" height="1.5" rx=".5" fill="#8e8e8e" transform="rotate(0 146.4 18.6)"/><rect x="147.8" y="23.2" width="2" height="1.5" rx=".5" fill="#848484" transform="rotate(-30 148.8 23.9)"/><rect x="78.1" y="23.6" width="1" height="1.5" rx=".5" fill="#9c9c9c" transform="rotate(0 78.6 24.4)"/><rect x="295.1" y="10.2" width="1.5" height="1.5" rx=".5" fill="#787878" transform="rotate(-45 295.8 11.0)"/><rect x="353.7" y="8.4" width="1.5" height="1" rx=".5" fill="#8e8e8e" transform="rotate(-30 354.5 8.9)"/><rect x="329.6" y="20.0" width="1.5" height="2" rx=".5" fill="#9c9c9c" transform="rotate(0 330.3 21.0)"/><rect x="389.6" y="14.5" width="1.5" height="2" rx=".5" fill="#848484" transform="rotate(0 390.4 15.5)"/><rect x="176.2" y="17.0" width="2" height="1" rx=".5" fill="#848484" transform="rotate(30 177.2 17.5)"/><rect x="322.7" y="7.9" width="1.5" height="1.5" rx=".5" fill="#6a6a6a" transform="rotate(60 323.4 8.6)"/><rect x="431.0" y="18.9" width="2.5" height="1" rx=".5" fill="#787878" transform="rotate(-45 432.3 19.4)"/><rect x="65.5" y="22.0" width="2" height="1" rx=".5" fill="#787878" transform="rotate(-45 66.5 22.5)"/><rect x="373.2" y="13.4" width="2.5" height="1.5" rx=".5" fill="#787878" transform="rotate(60 374.4 14.2)"/><rect x="39.1" y="13.6" width="2.5" height="1.5" rx=".5" fill="#6a6a6a" transform="rotate(-45 40.4 14.3)"/><rect x="351.8" y="22.8" width="1" height="1.5" rx=".5" fill="#8e8e8e" transform="rotate(0 352.3 23.5)"/><rect x="317.8" y="11.4" width="1" height="1.5" rx=".5" fill="#8e8e8e" transform="rotate(-45 318.3 12.2)"/><rect x="3.9" y="9.7" width="2" height="1" rx=".5" fill="#8e8e8e" transform="rotate(-45 4.9 10.2)"/><rect x="166.3" y="1.3" width="1.5" height="2" rx=".5" fill="#8e8e8e" transform="rotate(30 167.0 2.3)"/><rect x="414.9" y="12.5" width="1.5" height="2" rx=".5" fill="#8e8e8e" transform="rotate(0 415.6 13.5)"/><rect x="88.7" y="4.7" width="1" height="1.5" rx=".5" fill="#787878" transform="rotate(60 89.2 5.5)"/><rect x="264.2" y="10.1" width="2" height="1" rx=".5" fill="#6a6a6a" transform="rotate(0 265.2 10.6)"/><rect x="432.0" y="12.3" width="2.5" height="1" rx=".5" fill="#787878" transform="rotate(-30 433.2 12.8)"/><rect x="217.1" y="1.8" width="1.5" height="2" rx=".5" fill="#5e5e5e" transform="rotate(30 217.9 2.8)"/><rect x="131.6" y="15.1" width="1" height="1" rx=".5" fill="#6a6a6a" transform="rotate(-45 132.1 15.6)"/><rect x="405.7" y="12.2" width="2" height="1" rx=".5" fill="#787878" transform="rotate(-45 406.7 12.7)"/><rect x="131.0" y="2.2" width="1.5" height="2" rx=".5" fill="#8e8e8e" transform="rotate(0 131.7 3.2)"/><rect x="119.1" y="1.2" width="1" height="1" rx=".5" fill="#848484" transform="rotate(0 119.6 1.7)"/><rect x="12.7" y="0.9" width="1.5" height="1.5" rx=".5" fill="#848484" transform="rotate(-45 13.4 1.6)"/><rect x="426.3" y="1.6" width="2" height="1.5" rx=".5" fill="#5e5e5e" transform="rotate(-30 427.3 2.4)"/><rect x="449.4" y="6.6" width="2" height="1" rx=".5" fill="#9c9c9c" transform="rotate(0 450.4 7.1)"/><rect x="448.3" y="16.6" width="1.5" height="1" rx=".5" fill="#848484" transform="rotate(-45 449.1 17.1)"/><rect x="74.4" y="23.9" width="2" height="1" rx=".5" fill="#6a6a6a" transform="rotate(0 75.4 24.4)"/><rect x="441.7" y="22.8" width="1" height="2" rx=".5" fill="#5e5e5e" transform="rotate(-45 442.2 23.8)"/><rect x="430.6" y="6.3" width="2" height="1.5" rx=".5" fill="#5e5e5e" transform="rotate(0 431.6 7.1)"/><rect x="67.9" y="18.5" width="1" height="1.5" rx=".5" fill="#8e8e8e" transform="rotate(60 68.4 19.2)"/><rect x="206.7" y="16.0" width="1.5" height="1.5" rx=".5" fill="#787878" transform="rotate(30 207.5 16.7)"/><rect x="182.7" y="9.4" width="1.5" height="1" rx=".5" fill="#848484" transform="rotate(0 183.4 9.9)"/><rect x="378.7" y="22.4" width="1" height="1.5" rx=".5" fill="#9c9c9c" transform="rotate(0 379.2 23.1)"/><rect x="373.9" y="4.1" width="2.5" height="1" rx=".5" fill="#5e5e5e" transform="rotate(60 375.2 4.6)"/><rect x="406.5" y="21.7" width="1" height="1.5" rx=".5" fill="#5e5e5e" transform="rotate(45 407.0 22.5)"/><rect x="394.8" y="15.4" width="1.5" height="1.5" rx=".5" fill="#787878" transform="rotate(-45 395.5 16.1)"/><rect x="109.4" y="3.1" width="1.5" height="1" rx=".5" fill="#787878" transform="rotate(0 110.2 3.6)"/><rect x="345.0" y="4.2" width="1.5" height="2" rx=".5" fill="#6a6a6a" transform="rotate(45 345.7 5.2)"/><rect x="408.1" y="6.8" width="1.5" height="1" rx=".5" fill="#6a6a6a" transform="rotate(0 408.9 7.3)"/><rect x="126.9" y="20.8" width="1.5" height="1" rx=".5" fill="#787878" transform="rotate(45 127.6 21.3)"/><rect x="51.0" y="11.4" width="1.5" height="1" rx=".5" fill="#6a6a6a" transform="rotate(60 51.7 11.9)"/><rect x="26.2" y="22.1" width="2" height="1" rx=".5" fill="#8e8e8e" transform="rotate(45 27.2 22.6)"/><rect x="391.0" y="3.2" width="2.5" height="1" rx=".5" fill="#787878" transform="rotate(45 392.2 3.7)"/><rect x="464.8" y="24.7" width="1" height="1" rx=".5" fill="#848484" transform="rotate(30 465.3 25.2)"/><rect x="194.2" y="4.0" width="2.5" height="1.5" rx=".5" fill="#6a6a6a" transform="rotate(-30 195.4 4.8)"/><rect x="7.3" y="19.5" width="1.5" height="2" rx=".5" fill="#6a6a6a" transform="rotate(45 8.0 20.5)"/><rect x="0.4" y="20.4" width="2" height="1.5" rx=".5" fill="#6a6a6a" transform="rotate(30 1.4 21.1)"/><rect x="204.1" y="22.3" width="1" height="1.5" rx=".5" fill="#8e8e8e" transform="rotate(0 204.6 23.1)"/><rect x="64.0" y="4.7" width="2.5" height="1" rx=".5" fill="#9c9c9c" transform="rotate(0 65.3 5.2)"/><rect x="92.3" y="1.7" width="1" height="2" rx=".5" fill="#9c9c9c" transform="rotate(45 92.8 2.7)"/><rect x="357.0" y="4.1" width="1" height="2" rx=".5" fill="#9c9c9c" transform="rotate(-30 357.5 5.1)"/><rect x="294.5" y="5.0" width="1.5" height="1" rx=".5" fill="#5e5e5e" transform="rotate(0 295.2 5.5)"/><rect x="323.9" y="13.0" width="2.5" height="1" rx=".5" fill="#8e8e8e" transform="rotate(-45 325.2 13.5)"/><rect x="162.5" y="6.9" width="2" height="1.5" rx=".5" fill="#5e5e5e" transform="rotate(0 163.5 7.7)"/><rect x="192.1" y="18.7" width="1" height="1.5" rx=".5" fill="#6a6a6a" transform="rotate(0 192.6 19.4)"/><rect x="264.1" y="24.4" width="1" height="1" rx=".5" fill="#9c9c9c" transform="rotate(30 264.6 24.9)"/><rect x="269.4" y="20.7" width="1.5" height="2" rx=".5" fill="#848484" transform="rotate(60 270.1 21.7)"/><rect x="33.5" y="8.8" width="1" height="1.5" rx=".5" fill="#9c9c9c" transform="rotate(-45 34.0 9.5)"/><rect x="178.9" y="18.4" width="1" height="1.5" rx=".5" fill="#5e5e5e" transform="rotate(-30 179.4 19.1)"/><rect x="231.6" y="12.3" width="2" height="2" rx=".5" fill="#6a6a6a" transform="rotate(0 232.6 13.3)"/><rect x="113.7" y="2.5" width="2" height="1" rx=".5" fill="#6a6a6a" transform="rotate(0 114.7 3.0)"/><rect x="146.3" y="13.9" width="1" height="1" rx=".5" fill="#5e5e5e" transform="rotate(-30 146.8 14.4)"/><rect x="345.7" y="6.2" width="2.5" height="2" rx=".5" fill="#9c9c9c" transform="rotate(60 347.0 7.2)"/><rect x="217.3" y="6.1" width="1.5" height="1" rx=".5" fill="#787878" transform="rotate(-45 218.1 6.6)"/><rect x="43.8" y="4.7" width="1.5" height="1" rx=".5" fill="#848484" transform="rotate(45 44.5 5.2)"/><rect x="274.8" y="18.9" width="1" height="1" rx=".5" fill="#5e5e5e" transform="rotate(45 275.3 19.4)"/><rect x="414.8" y="13.5" width="1" height="1" rx=".5" fill="#6a6a6a" transform="rotate(-30 415.3 14.0)"/><rect x="268.7" y="18.5" width="1" height="1" rx=".5" fill="#9c9c9c" transform="rotate(45 269.2 19.0)"/><rect x="324.9" y="14.4" width="2" height="2" rx=".5" fill="#5e5e5e" transform="rotate(45 325.9 15.4)"/><rect x="454.9" y="1.3" width="1.5" height="1.5" rx=".5" fill="#848484" transform="rotate(0 455.7 2.1)"/><rect x="392.5" y="17.3" width="2.5" height="2" rx=".5" fill="#787878" transform="rotate(-45 393.8 18.3)"/><rect x="187.6" y="13.5" width="1.5" height="2" rx=".5" fill="#6a6a6a" transform="rotate(-30 188.4 14.5)"/><rect x="438.0" y="6.4" width="1.5" height="1" rx=".5" fill="#787878" transform="rotate(0 438.7 6.9)"/><rect x="248.7" y="2.0" width="1.5" height="1" rx=".5" fill="#8e8e8e" transform="rotate(-30 249.4 2.5)"/><rect x="9.5" y="3.5" width="1.5" height="1.5" rx=".5" fill="#9c9c9c" transform="rotate(0 10.3 4.2)"/><rect x="379.5" y="21.9" width="1" height="1" rx=".5" fill="#9c9c9c" transform="rotate(60 380.0 22.4)"/><rect x="124.4" y="16.4" width="1.5" height="2" rx=".5" fill="#5e5e5e" transform="rotate(60 125.1 17.4)"/><rect x="47.1" y="3.0" width="1" height="1.5" rx=".5" fill="#6a6a6a" transform="rotate(0 47.6 3.8)"/><rect x="134.3" y="7.8" width="2" height="1" rx=".5" fill="#5e5e5e" transform="rotate(0 135.3 8.3)"/><rect x="278.2" y="23.4" width="2" height="1.5" rx=".5" fill="#5e5e5e" transform="rotate(45 279.2 24.1)"/><rect x="276.6" y="23.0" width="1.5" height="1" rx=".5" fill="#8e8e8e" transform="rotate(0 277.3 23.5)"/><rect x="414.7" y="22.4" width="2" height="1.5" rx=".5" fill="#787878" transform="rotate(0 415.7 23.1)"/><rect x="344.9" y="18.1" width="1.5" height="1.5" rx=".5" fill="#8e8e8e" transform="rotate(-30 345.7 18.9)"/><rect x="267.4" y="15.7" width="1" height="2" rx=".5" fill="#9c9c9c" transform="rotate(30 267.9 16.7)"/><rect x="215.7" y="13.4" width="2" height="1.5" rx=".5" fill="#848484" transform="rotate(-45 216.7 14.2)"/><rect x="145.6" y="6.2" width="1" height="1" rx=".5" fill="#8e8e8e" transform="rotate(60 146.1 6.7)"/><rect x="179.7" y="14.3" width="1" height="1.5" rx=".5" fill="#6a6a6a" transform="rotate(-45 180.2 15.1)"/><rect x="446.3" y="8.0" width="1.5" height="1.5" rx=".5" fill="#787878" transform="rotate(30 447.0 8.7)"/><rect x="412.0" y="5.6" width="1" height="1" rx=".5" fill="#6a6a6a" transform="rotate(60 412.5 6.1)"/><rect x="31.1" y="21.6" width="1.5" height="1" rx=".5" fill="#8e8e8e" transform="rotate(45 31.8 22.1)"/><rect x="390.6" y="8.9" width="2.5" height="1" rx=".5" fill="#8e8e8e" transform="rotate(0 391.8 9.4)"/><rect x="464.0" y="16.6" width="1" height="1.5" rx=".5" fill="#787878" transform="rotate(-30 464.5 17.3)"/><rect x="164.8" y="16.3" width="2" height="2" rx=".5" fill="#787878" transform="rotate(-45 165.8 17.3)"/><rect x="392.7" y="2.4" width="2.5" height="1.5" rx=".5" fill="#787878" transform="rotate(-45 394.0 3.1)"/><rect x="295.3" y="15.7" width="2" height="1" rx=".5" fill="#848484" transform="rotate(-45 296.3 16.2)"/><rect x="48.0" y="9.8" width="2" height="2" rx=".5" fill="#5e5e5e" transform="rotate(45 49.0 10.8)"/><rect x="186.4" y="24.3" width="1" height="1.5" rx=".5" fill="#787878" transform="rotate(-45 186.9 25.0)"/><rect x="290.7" y="2.8" width="2.5" height="1.5" rx=".5" fill="#9c9c9c" transform="rotate(45 291.9 3.5)"/><rect x="134.9" y="8.7" width="1.5" height="1.5" rx=".5" fill="#8e8e8e" transform="rotate(60 135.6 9.4)"/><rect x="279.3" y="15.9" width="1" height="1.5" rx=".5" fill="#848484" transform="rotate(45 279.8 16.6)"/><rect x="140.0" y="13.4" width="2.5" height="1" rx=".5" fill="#848484" transform="rotate(60 141.2 13.9)"/><rect x="176.1" y="5.7" width="2.5" height="1.5" rx=".5" fill="#787878" transform="rotate(-45 177.3 6.5)"/><rect x="284.9" y="6.2" width="1.5" height="1" rx=".5" fill="#848484" transform="rotate(0 285.7 6.7)"/><rect x="11.7" y="6.3" width="1.5" height="1.5" rx=".5" fill="#8e8e8e" transform="rotate(-45 12.5 7.1)"/><rect x="146.3" y="14.9" width="1.5" height="2" rx=".5" fill="#8e8e8e" transform="rotate(-30 147.0 15.9)"/><rect x="321.1" y="9.8" width="1.5" height="1" rx=".5" fill="#8e8e8e" transform="rotate(-30 321.9 10.3)"/><rect x="164.2" y="23.4" width="2" height="1" rx=".5" fill="#8e8e8e" transform="rotate(0 165.2 23.9)"/><rect x="46.2" y="8.9" width="1.5" height="2" rx=".5" fill="#8e8e8e" transform="rotate(0 46.9 9.9)"/><rect x="412.4" y="23.6" width="1.5" height="1.5" rx=".5" fill="#848484" transform="rotate(-45 413.1 24.3)"/><rect x="292.7" y="24.1" width="1.5" height="2" rx=".5" fill="#9c9c9c" transform="rotate(-45 293.4 25.1)"/><rect x="43.0" y="9.2" width="1.5" height="1" rx=".5" fill="#787878" transform="rotate(60 43.8 9.7)"/><rect x="82.1" y="16.1" width="1.5" height="1.5" rx=".5" fill="#8e8e8e" transform="rotate(45 82.8 16.8)"/><rect x="295.2" y="12.6" width="2.5" height="2" rx=".5" fill="#6a6a6a" transform="rotate(60 296.5 13.6)"/><rect x="418.9" y="9.9" width="1" height="2" rx=".5" fill="#8e8e8e" transform="rotate(0 419.4 10.9)"/><rect x="165.1" y="24.5" width="2" height="1" rx=".5" fill="#9c9c9c" transform="rotate(45 166.1 25.0)"/><rect x="4.5" y="-0.1" width="2" height="2" rx=".5" fill="#5e5e5e" transform="rotate(30 5.5 0.9)"/><rect x="186.5" y="2.7" width="1" height="1" rx=".5" fill="#6a6a6a" transform="rotate(0 187.0 3.2)"/><rect x="233.2" y="13.3" width="1.5" height="2" rx=".5" fill="#8e8e8e" transform="rotate(0 234.0 14.3)"/><rect x="269.4" y="10.3" width="1" height="1" rx=".5" fill="#6a6a6a" transform="rotate(60 269.9 10.8)"/><rect x="356.2" y="2.9" width="1" height="1" rx=".5" fill="#6a6a6a" transform="rotate(60 356.7 3.4)"/><rect x="229.8" y="11.7" width="1.5" height="1" rx=".5" fill="#9c9c9c" transform="rotate(0 230.5 12.2)"/><rect x="321.1" y="14.4" width="1" height="1" rx=".5" fill="#787878" transform="rotate(30 321.6 14.9)"/><rect x="79.5" y="6.3" width="1" height="2" rx=".5" fill="#5e5e5e" transform="rotate(30 80.0 7.3)"/><rect x="89.9" y="15.5" width="1" height="1" rx=".5" fill="#6a6a6a" transform="rotate(45 90.4 16.0)"/><rect x="273.0" y="23.7" width="1.5" height="1" rx=".5" fill="#8e8e8e" transform="rotate(0 273.8 24.2)"/><rect x="116.4" y="1.4" width="2" height="1" rx=".5" fill="#787878" transform="rotate(0 117.4 1.9)"/><rect x="421.3" y="20.0" width="1.5" height="1.5" rx=".5" fill="#8e8e8e" transform="rotate(30 422.1 20.7)"/><rect x="450.3" y="12.4" width="1" height="1" rx=".5" fill="#9c9c9c" transform="rotate(45 450.8 12.9)"/><rect x="316.3" y="14.3" width="1.5" height="1.5" rx=".5" fill="#848484" transform="rotate(-30 317.0 15.1)"/><rect x="227.2" y="19.6" width="1" height="1" rx=".5" fill="#6a6a6a" transform="rotate(0 227.7 20.1)"/><rect x="167.8" y="4.6" width="1.5" height="1.5" rx=".5" fill="#8e8e8e" transform="rotate(30 168.6 5.4)"/><rect x="53.6" y="13.1" width="1.5" height="1.5" rx=".5" fill="#848484" transform="rotate(-30 54.4 13.8)"/><rect x="29.9" y="3.1" width="2.5" height="1.5" rx=".5" fill="#8e8e8e" transform="rotate(0 31.2 3.8)"/><rect x="181.4" y="11.7" width="1.5" height="1" rx=".5" fill="#848484" transform="rotate(0 182.2 12.2)"/><rect x="130.2" y="0.9" width="2.5" height="1" rx=".5" fill="#6a6a6a" transform="rotate(-30 131.4 1.4)"/><rect x="60.4" y="5.1" width="2" height="1" rx=".5" fill="#8e8e8e" transform="rotate(45 61.4 5.6)"/><rect x="219.0" y="19.7" width="1" height="1" rx=".5" fill="#787878" transform="rotate(30 219.5 20.2)"/><rect x="101.0" y="9.7" width="2" height="2" rx=".5" fill="#6a6a6a" transform="rotate(30 102.0 10.7)"/><rect x="446.0" y="12.4" width="1" height="1.5" rx=".5" fill="#9c9c9c" transform="rotate(0 446.5 13.1)"/><rect x="441.3" y="24.4" width="2" height="1.5" rx=".5" fill="#8e8e8e" transform="rotate(30 442.3 25.1)"/><rect x="250.3" y="10.2" width="2" height="1" rx=".5" fill="#6a6a6a" transform="rotate(-45 251.3 10.7)"/><rect x="352.1" y="16.3" width="1" height="2" rx=".5" fill="#787878" transform="rotate(-30 352.6 17.3)"/><rect x="361.4" y="9.2" width="2" height="2" rx=".5" fill="#6a6a6a" transform="rotate(30 362.4 10.2)"/><rect x="6.5" y="17.6" width="2" height="1" rx=".5" fill="#6a6a6a" transform="rotate(30 7.5 18.1)"/><rect x="88.3" y="21.5" width="1" height="2" rx=".5" fill="#787878" transform="rotate(-45 88.8 22.5)"/><rect x="234.7" y="7.3" width="1" height="1.5" rx=".5" fill="#5e5e5e" transform="rotate(0 235.2 8.0)"/><rect x="135.1" y="20.0" width="1.5" height="1.5" rx=".5" fill="#787878" transform="rotate(45 135.8 20.7)"/><rect x="395.5" y="11.6" width="2" height="1" rx=".5" fill="#787878" transform="rotate(0 396.5 12.1)"/><rect x="13.4" y="16.6" width="2" height="1.5" rx=".5" fill="#848484" transform="rotate(0 14.4 17.4)"/><rect x="309.1" y="17.1" width="1" height="1.5" rx=".5" fill="#787878" transform="rotate(-30 309.6 17.9)"/><rect x="45.6" y="6.9" width="1.5" height="2" rx=".5" fill="#9c9c9c" transform="rotate(0 46.3 7.9)"/><rect x="334.2" y="0.8" width="1" height="2" rx=".5" fill="#6a6a6a" transform="rotate(45 334.7 1.8)"/><rect x="92.7" y="7.7" width="1.5" height="1" rx=".5" fill="#8e8e8e" transform="rotate(30 93.4 8.2)"/><rect x="294.7" y="23.3" width="2" height="1" rx=".5" fill="#8e8e8e" transform="rotate(45 295.7 23.8)"/><rect x="335.9" y="6.0" width="1.5" height="2" rx=".5" fill="#787878" transform="rotate(0 336.6 7.0)"/><rect x="52.0" y="18.7" width="2" height="1.5" rx=".5" fill="#5e5e5e" transform="rotate(-45 53.0 19.4)"/><rect x="274.4" y="17.3" width="1" height="1" rx=".5" fill="#5e5e5e" transform="rotate(-45 274.9 17.8)"/><rect x="149.2" y="19.3" width="1.5" height="1" rx=".5" fill="#848484" transform="rotate(-30 149.9 19.8)"/><rect x="348.4" y="24.7" width="2" height="1" rx=".5" fill="#787878" transform="rotate(60 349.4 25.2)"/><rect x="41.9" y="23.1" width="1.5" height="1.5" rx=".5" fill="#787878" transform="rotate(-30 42.7 23.9)"/><rect x="235.2" y="16.8" width="2.5" height="1.5" rx=".5" fill="#8e8e8e" transform="rotate(0 236.4 17.6)"/><rect x="316.8" y="4.8" width="2" height="2" rx=".5" fill="#6a6a6a" transform="rotate(45 317.8 5.8)"/><rect x="356.8" y="0.9" width="2" height="2" rx=".5" fill="#787878" transform="rotate(0 357.8 1.9)"/><rect x="255.8" y="24.0" width="2" height="1" rx=".5" fill="#8e8e8e" transform="rotate(30 256.8 24.5)"/><rect x="116.9" y="1.5" width="1.5" height="1.5" rx=".5" fill="#848484" transform="rotate(0 117.6 2.2)"/><rect x="94.5" y="7.6" width="1" height="1.5" rx=".5" fill="#9c9c9c" transform="rotate(45 95.0 8.4)"/><rect x="111.1" y="5.9" width="2" height="1.5" rx=".5" fill="#6a6a6a" transform="rotate(-30 112.1 6.7)"/><rect x="164.3" y="7.6" width="2" height="1" rx=".5" fill="#8e8e8e" transform="rotate(60 165.3 8.1)"/><rect x="112.9" y="15.2" width="1" height="2" rx=".5" fill="#848484" transform="rotate(-45 113.4 16.2)"/><rect x="441.4" y="16.3" width="1" height="2" rx=".5" fill="#848484" transform="rotate(-45 441.9 17.3)"/><rect x="359.3" y="20.3" width="1" height="1.5" rx=".5" fill="#5e5e5e" transform="rotate(30 359.8 21.1)"/><rect x="228.0" y="1.1" width="1.5" height="1.5" rx=".5" fill="#6a6a6a" transform="rotate(0 228.7 1.9)"/><rect x="329.1" y="11.2" width="1" height="1" rx=".5" fill="#787878" transform="rotate(45 329.6 11.7)"/><rect x="219.8" y="8.7" width="1" height="2" rx=".5" fill="#5e5e5e" transform="rotate(0 220.3 9.7)"/><rect x="4.3" y="24.3" width="2.5" height="1.5" rx=".5" fill="#5e5e5e" transform="rotate(-30 5.6 25.0)"/><rect x="335.8" y="24.0" width="2" height="1.5" rx=".5" fill="#5e5e5e" transform="rotate(-30 336.8 24.7)"/><rect x="229.3" y="10.4" width="1" height="2" rx=".5" fill="#787878" transform="rotate(0 229.8 11.4)"/><rect x="168.3" y="2.0" width="1.5" height="2" rx=".5" fill="#9c9c9c" transform="rotate(-30 169.0 3.0)"/><rect x="328.0" y="16.2" width="1" height="1" rx=".5" fill="#9c9c9c" transform="rotate(0 328.5 16.7)"/><rect x="11.9" y="9.7" width="1" height="1.5" rx=".5" fill="#787878" transform="rotate(0 12.4 10.4)"/><rect x="450.7" y="13.1" width="2" height="1" rx=".5" fill="#5e5e5e" transform="rotate(-45 451.7 13.6)"/><rect x="336.6" y="7.6" width="2" height="1.5" rx=".5" fill="#848484" transform="rotate(0 337.6 8.4)"/><rect x="303.6" y="8.7" width="1" height="1.5" rx=".5" fill="#6a6a6a" transform="rotate(60 304.1 9.5)"/><rect x="431.1" y="20.7" width="1.5" height="1" rx=".5" fill="#5e5e5e" transform="rotate(0 431.8 21.2)"/><rect x="49.5" y="19.6" width="2.5" height="1.5" rx=".5" fill="#5e5e5e" transform="rotate(0 50.8 20.4)"/><rect x="231.9" y="12.2" width="1" height="1.5" rx=".5" fill="#8e8e8e" transform="rotate(60 232.4 13.0)"/><rect x="293.8" y="3.8" width="1" height="1" rx=".5" fill="#6a6a6a" transform="rotate(45 294.3 4.3)"/><rect x="298.6" y="9.8" width="1" height="1.5" rx=".5" fill="#848484" transform="rotate(0 299.1 10.6)"/><rect x="102.4" y="8.9" width="1" height="2" rx=".5" fill="#8e8e8e" transform="rotate(45 102.9 9.9)"/><rect x="67.1" y="1.6" width="1" height="2" rx=".5" fill="#9c9c9c" transform="rotate(45 67.6 2.6)"/><rect x="417.7" y="1.8" width="1" height="1" rx=".5" fill="#9c9c9c" transform="rotate(0 418.2 2.3)"/><rect x="176.9" y="-0.1" width="2.5" height="2" rx=".5" fill="#9c9c9c" transform="rotate(30 178.2 0.9)"/><rect x="265.7" y="11.5" width="2" height="1.5" rx=".5" fill="#8e8e8e" transform="rotate(45 266.7 12.2)"/><rect x="200.4" y="13.3" width="2" height="1" rx=".5" fill="#848484" transform="rotate(60 201.4 13.8)"/><rect x="290.7" y="19.8" width="1" height="1.5" rx=".5" fill="#8e8e8e" transform="rotate(-30 291.2 20.6)"/><rect x="139.1" y="14.0" width="1.5" height="1.5" rx=".5" fill="#9c9c9c" transform="rotate(-30 139.8 14.7)"/><rect x="63.7" y="21.4" width="2" height="1" rx=".5" fill="#6a6a6a" transform="rotate(0 64.7 21.9)"/><rect x="318.3" y="11.2" width="1" height="1" rx=".5" fill="#9c9c9c" transform="rotate(60 318.8 11.7)"/><rect x="174.2" y="14.2" width="1.5" height="1.5" rx=".5" fill="#8e8e8e" transform="rotate(0 175.0 15.0)"/><rect x="264.9" y="10.0" width="1" height="1" rx=".5" fill="#6a6a6a" transform="rotate(0 265.4 10.5)"/><rect x="256.3" y="2.8" width="2.5" height="1.5" rx=".5" fill="#9c9c9c" transform="rotate(0 257.6 3.5)"/><rect x="87.5" y="16.4" width="2" height="1.5" rx=".5" fill="#6a6a6a" transform="rotate(60 88.5 17.2)"/><rect x="214.4" y="13.5" width="2" height="1" rx=".5" fill="#9c9c9c" transform="rotate(60 215.4 14.0)"/><rect x="425.7" y="13.9" width="2.5" height="1.5" rx=".5" fill="#9c9c9c" transform="rotate(0 426.9 14.6)"/><rect x="374.9" y="3.1" width="2" height="2" rx=".5" fill="#8e8e8e" transform="rotate(-30 375.9 4.1)"/><rect x="392.8" y="22.9" width="2" height="2" rx=".5" fill="#5e5e5e" transform="rotate(45 393.8 23.9)"/><rect x="389.4" y="9.9" width="1" height="1" rx=".5" fill="#8e8e8e" transform="rotate(45 389.9 10.4)"/><rect x="362.7" y="3.1" width="2.5" height="2" rx=".5" fill="#5e5e5e" transform="rotate(45 364.0 4.1)"/><rect x="111.1" y="8.9" width="1" height="2" rx=".5" fill="#6a6a6a" transform="rotate(45 111.6 9.9)"/><rect x="140.4" y="17.6" width="1.5" height="1" rx=".5" fill="#8e8e8e" transform="rotate(-45 141.2 18.1)"/><rect x="94.1" y="2.8" width="2" height="1.5" rx=".5" fill="#6a6a6a" transform="rotate(30 95.1 3.6)"/><rect x="348.9" y="8.6" width="2.5" height="1" rx=".5" fill="#787878" transform="rotate(0 350.1 9.1)"/><rect x="111.7" y="12.6" width="2" height="1.5" rx=".5" fill="#9c9c9c" transform="rotate(45 112.7 13.3)"/><rect x="20.4" y="14.8" width="1" height="1.5" rx=".5" fill="#8e8e8e" transform="rotate(30 20.9 15.5)"/><rect x="376.1" y="3.1" width="2" height="1" rx=".5" fill="#787878" transform="rotate(30 377.1 3.6)"/><rect x="89.8" y="10.7" width="2.5" height="2" rx=".5" fill="#848484" transform="rotate(0 91.1 11.7)"/><rect x="371.1" y="12.0" width="1" height="1.5" rx=".5" fill="#6a6a6a" transform="rotate(0 371.6 12.7)"/><rect x="259.4" y="7.1" width="2" height="1.5" rx=".5" fill="#6a6a6a" transform="rotate(60 260.4 7.9)"/><rect x="410.1" y="13.2" width="2" height="1.5" rx=".5" fill="#848484" transform="rotate(0 411.1 13.9)"/><rect x="11.4" y="24.1" width="1.5" height="2" rx=".5" fill="#848484" transform="rotate(-45 12.1 25.1)"/><rect x="14.8" y="20.7" width="1" height="1" rx=".5" fill="#8e8e8e" transform="rotate(-45 15.3 21.2)"/><rect x="301.6" y="14.7" width="2.5" height="1.5" rx=".5" fill="#6a6a6a" transform="rotate(-30 302.9 15.4)"/><rect x="395.6" y="9.4" width="2.5" height="2" rx=".5" fill="#8e8e8e" transform="rotate(0 396.9 10.4)"/><rect x="169.0" y="13.2" width="1.5" height="1" rx=".5" fill="#8e8e8e" transform="rotate(60 169.8 13.7)"/><rect x="20.2" y="4.2" width="1.5" height="1.5" rx=".5" fill="#787878" transform="rotate(60 21.0 4.9)"/><rect x="219.4" y="23.2" width="1.5" height="1" rx=".5" fill="#787878" transform="rotate(60 220.2 23.7)"/><rect x="226.7" y="5.6" width="1" height="1.5" rx=".5" fill="#8e8e8e" transform="rotate(0 227.2 6.3)"/><rect x="295.9" y="17.8" width="1" height="1.5" rx=".5" fill="#848484" transform="rotate(30 296.4 18.5)"/><rect x="29.5" y="24.0" width="1.5" height="2" rx=".5" fill="#8e8e8e" transform="rotate(60 30.3 25.0)"/><rect x="273.6" y="3.7" width="2" height="1" rx=".5" fill="#8e8e8e" transform="rotate(-45 274.6 4.2)"/><rect x="44.4" y="4.7" width="1.5" height="2" rx=".5" fill="#9c9c9c" transform="rotate(0 45.2 5.7)"/><rect x="169.5" y="7.2" width="2.5" height="1" rx=".5" fill="#6a6a6a" transform="rotate(-30 170.7 7.7)"/><rect x="33.5" y="23.5" width="1.5" height="1.5" rx=".5" fill="#8e8e8e" transform="rotate(-45 34.3 24.3)"/><rect x="297.4" y="8.6" width="2" height="1.5" rx=".5" fill="#787878" transform="rotate(0 298.4 9.4)"/><rect x="329.5" y="16.4" width="2.5" height="1.5" rx=".5" fill="#8e8e8e" transform="rotate(30 330.8 17.2)"/><rect x="419.1" y="20.0" width="1.5" height="1" rx=".5" fill="#6a6a6a" transform="rotate(0 419.9 20.5)"/><rect x="3.1" y="21.3" width="1.5" height="1.5" rx=".5" fill="#848484" transform="rotate(45 3.9 22.1)"/><rect x="266.7" y="7.2" width="1" height="2" rx=".5" fill="#5e5e5e" transform="rotate(0 267.2 8.2)"/><rect x="140.9" y="7.3" width="2" height="2" rx=".5" fill="#8e8e8e" transform="rotate(-30 141.9 8.3)"/><rect x="439.7" y="8.1" width="1" height="2" rx=".5" fill="#5e5e5e" transform="rotate(60 440.2 9.1)"/><rect x="83.6" y="14.2" width="1.5" height="1.5" rx=".5" fill="#9c9c9c" transform="rotate(45 84.3 15.0)"/><rect x="337.5" y="22.5" width="2.5" height="1.5" rx=".5" fill="#787878" transform="rotate(0 338.7 23.3)"/><rect x="129.4" y="6.6" width="1" height="1" rx=".5" fill="#9c9c9c" transform="rotate(30 129.9 7.1)"/><rect x="111.1" y="0.5" width="1" height="1.5" rx=".5" fill="#848484" transform="rotate(0 111.6 1.3)"/><rect x="418.2" y="7.2" width="2" height="1" rx=".5" fill="#6a6a6a" transform="rotate(0 419.2 7.7)"/><rect x="343.7" y="23.8" width="2" height="1" rx=".5" fill="#5e5e5e" transform="rotate(0 344.7 24.3)"/><rect x="379.4" y="21.7" width="1.5" height="1" rx=".5" fill="#5e5e5e" transform="rotate(0 380.1 22.2)"/><rect x="126.9" y="15.7" width="1" height="1.5" rx=".5" fill="#5e5e5e" transform="rotate(0 127.4 16.5)"/><rect x="150.8" y="21.2" width="1" height="1.5" rx=".5" fill="#848484" transform="rotate(60 151.3 22.0)"/><rect x="318.4" y="8.3" width="1" height="1.5" rx=".5" fill="#5e5e5e" transform="rotate(0 318.9 9.0)"/><rect x="293.5" y="8.0" width="1.5" height="2" rx=".5" fill="#848484" transform="rotate(30 294.2 9.0)"/><rect x="441.0" y="21.4" width="1" height="1.5" rx=".5" fill="#8e8e8e" transform="rotate(-30 441.5 22.1)"/><rect x="462.6" y="1.4" width="2" height="1.5" rx=".5" fill="#6a6a6a" transform="rotate(0 463.6 2.2)"/><rect x="8.2" y="5.4" width="2" height="1" rx=".5" fill="#787878" transform="rotate(-45 9.2 5.9)"/><rect x="169.1" y="8.2" width="2" height="2" rx=".5" fill="#8e8e8e" transform="rotate(0 170.1 9.2)"/><rect x="308.1" y="15.0" width="1.5" height="1" rx=".5" fill="#9c9c9c" transform="rotate(60 308.8 15.5)"/><rect x="120.2" y="17.7" width="2.5" height="1" rx=".5" fill="#9c9c9c" transform="rotate(30 121.4 18.2)"/><rect x="305.1" y="13.5" width="2" height="1.5" rx=".5" fill="#8e8e8e" transform="rotate(30 306.1 14.2)"/><rect x="169.2" y="13.2" width="1.5" height="1" rx=".5" fill="#787878" transform="rotate(0 170.0 13.7)"/><rect x="261.0" y="2.5" width="2.5" height="1.5" rx=".5" fill="#6a6a6a" transform="rotate(-30 262.3 3.2)"/><rect x="107.0" y="18.8" width="1" height="1" rx=".5" fill="#8e8e8e" transform="rotate(0 107.5 19.3)"/><rect x="57.3" y="13.1" width="1" height="2" rx=".5" fill="#6a6a6a" transform="rotate(30 57.8 14.1)"/><rect x="440.7" y="9.2" width="1" height="1" rx=".5" fill="#9c9c9c" transform="rotate(-45 441.2 9.7)"/><rect x="432.2" y="4.0" width="1" height="1.5" rx=".5" fill="#9c9c9c" transform="rotate(0 432.7 4.8)"/><rect x="207.1" y="21.0" width="1" height="1.5" rx=".5" fill="#848484" transform="rotate(45 207.6 21.8)"/><rect x="99.5" y="19.6" width="1" height="1" rx=".5" fill="#9c9c9c" transform="rotate(-30 100.0 20.1)"/><rect x="7.0" y="19.7" width="1.5" height="1.5" rx=".5" fill="#5e5e5e" transform="rotate(0 7.7 20.5)"/><rect x="264.4" y="10.3" width="1.5" height="1" rx=".5" fill="#5e5e5e" transform="rotate(30 265.1 10.8)"/><rect x="9.7" y="17.6" width="1" height="1" rx=".5" fill="#787878" transform="rotate(0 10.2 18.1)"/><rect x="152.7" y="10.4" width="1.5" height="1.5" rx=".5" fill="#848484" transform="rotate(0 153.4 11.2)"/><rect x="460.0" y="19.3" width="1.5" height="1.5" rx=".5" fill="#6a6a6a" transform="rotate(-45 460.8 20.1)"/><rect x="140.7" y="2.2" width="1" height="1.5" rx=".5" fill="#6a6a6a" transform="rotate(0 141.2 3.0)"/><rect x="149.7" y="15.2" width="1.5" height="1" rx=".5" fill="#8e8e8e" transform="rotate(0 150.5 15.7)"/><rect x="413.6" y="5.2" width="2" height="1.5" rx=".5" fill="#5e5e5e" transform="rotate(-45 414.6 5.9)"/><rect x="362.7" y="11.0" width="1.5" height="1" rx=".5" fill="#787878" transform="rotate(-30 363.5 11.5)"/><rect x="11.5" y="3.0" width="1" height="1" rx=".5" fill="#787878" transform="rotate(0 12.0 3.5)"/><rect x="235.0" y="8.9" width="2.5" height="1" rx=".5" fill="#848484" transform="rotate(-30 236.2 9.4)"/><rect x="185.8" y="10.2" width="2" height="1.5" rx=".5" fill="#787878" transform="rotate(0 186.8 10.9)"/><rect x="274.0" y="5.2" width="2" height="1" rx=".5" fill="#5e5e5e" transform="rotate(0 275.0 5.7)"/><rect x="236.5" y="6.0" width="1.5" height="1" rx=".5" fill="#9c9c9c" transform="rotate(0 237.2 6.5)"/><rect x="22.7" y="22.1" width="1" height="1" rx=".5" fill="#5e5e5e" transform="rotate(45 23.2 22.6)"/><rect x="455.2" y="13.1" width="1" height="1" rx=".5" fill="#6a6a6a" transform="rotate(-30 455.7 13.6)"/><rect x="253.0" y="15.3" width="2" height="2" rx=".5" fill="#5e5e5e" transform="rotate(60 254.0 16.3)"/><rect x="165.8" y="12.2" width="1" height="1.5" rx=".5" fill="#6a6a6a" transform="rotate(-45 166.3 12.9)"/><rect x="453.3" y="21.8" width="2" height="1" rx=".5" fill="#787878" transform="rotate(-30 454.3 22.3)"/><rect x="83.1" y="6.8" width="1" height="1" rx=".5" fill="#6a6a6a" transform="rotate(60 83.6 7.3)"/><rect x="22.2" y="19.3" width="1.5" height="1.5" rx=".5" fill="#5e5e5e" transform="rotate(30 22.9 20.1)"/><rect x="322.2" y="16.0" width="2" height="1.5" rx=".5" fill="#8e8e8e" transform="rotate(30 323.2 16.7)"/><rect x="323.0" y="24.0" width="2.5" height="1.5" rx=".5" fill="#848484" transform="rotate(45 324.2 24.8)"/><rect x="149.3" y="10.3" width="1" height="1.5" rx=".5" fill="#848484" transform="rotate(45 149.8 11.0)"/><rect x="376.5" y="22.2" width="2" height="1" rx=".5" fill="#6a6a6a" transform="rotate(60 377.5 22.7)"/><rect x="234.5" y="23.9" width="2" height="2" rx=".5" fill="#9c9c9c" transform="rotate(45 235.5 24.9)"/><rect x="464.3" y="20.4" width="2" height="1" rx=".5" fill="#5e5e5e" transform="rotate(-45 465.3 20.9)"/><rect x="290.7" y="1.1" width="2" height="1" rx=".5" fill="#848484" transform="rotate(-30 291.7 1.6)"/><rect x="261.7" y="16.5" width="1.5" height="2" rx=".5" fill="#9c9c9c" transform="rotate(30 262.4 17.5)"/><rect x="213.4" y="14.1" width="1.5" height="1.5" rx=".5" fill="#8e8e8e" transform="rotate(30 214.1 14.9)"/><rect x="277.8" y="24.3" width="1" height="1.5" rx=".5" fill="#787878" transform="rotate(-30 278.3 25.1)"/><rect x="29.8" y="23.6" width="1.5" height="2" rx=".5" fill="#9c9c9c" transform="rotate(-30 30.6 24.6)"/><rect x="386.7" y="1.6" width="2.5" height="2" rx=".5" fill="#9c9c9c" transform="rotate(0 388.0 2.6)"/><rect x="433.1" y="18.7" width="1.5" height="1.5" rx=".5" fill="#9c9c9c" transform="rotate(30 433.8 19.5)"/><rect x="244.8" y="11.9" width="1" height="1" rx=".5" fill="#5e5e5e" transform="rotate(-45 245.3 12.4)"/><rect x="247.5" y="13.1" width="2" height="1" rx=".5" fill="#787878" transform="rotate(0 248.5 13.6)"/><rect x="315.5" y="3.8" width="2" height="1.5" rx=".5" fill="#6a6a6a" transform="rotate(-30 316.5 4.5)"/><rect x="443.8" y="21.2" width="2" height="1" rx=".5" fill="#787878" transform="rotate(45 444.8 21.7)"/><rect x="169.4" y="21.4" width="1.5" height="1" rx=".5" fill="#848484" transform="rotate(0 170.2 21.9)"/><rect x="329.3" y="9.2" width="1.5" height="1.5" rx=".5" fill="#9c9c9c" transform="rotate(-45 330.0 10.0)"/><rect x="244.6" y="7.7" width="2" height="1" rx=".5" fill="#787878" transform="rotate(45 245.6 8.2)"/><rect x="136.2" y="10.9" width="1" height="1.5" rx=".5" fill="#9c9c9c" transform="rotate(45 136.7 11.7)"/><rect x="342.2" y="4.6" width="2" height="1" rx=".5" fill="#5e5e5e" transform="rotate(-30 343.2 5.1)"/><rect x="60.7" y="12.2" width="2" height="1" rx=".5" fill="#8e8e8e" transform="rotate(30 61.7 12.7)"/><rect x="245.2" y="19.9" width="1.5" height="1" rx=".5" fill="#8e8e8e" transform="rotate(0 246.0 20.4)"/><rect x="-0.1" y="6.6" width="2" height="1" rx=".5" fill="#787878" transform="rotate(-30 0.9 7.1)"/><rect x="255.2" y="22.7" width="1.5" height="1" rx=".5" fill="#787878" transform="rotate(-45 255.9 23.2)"/><rect x="205.2" y="13.1" width="1.5" height="1" rx=".5" fill="#6a6a6a" transform="rotate(0 206.0 13.6)"/><rect x="198.0" y="19.4" width="2" height="1.5" rx=".5" fill="#5e5e5e" transform="rotate(-30 199.0 20.1)"/><rect x="207.0" y="9.0" width="2" height="1.5" rx=".5" fill="#848484" transform="rotate(45 208.0 9.8)"/><rect x="303.7" y="20.1" width="1.5" height="1" rx=".5" fill="#848484" transform="rotate(-45 304.5 20.6)"/><rect x="271.4" y="22.4" width="1" height="2" rx=".5" fill="#787878" transform="rotate(0 271.9 23.4)"/><rect x="312.2" y="8.3" width="1" height="1" rx=".5" fill="#848484" transform="rotate(45 312.7 8.8)"/><rect x="183.9" y="10.4" width="2" height="1" rx=".5" fill="#5e5e5e" transform="rotate(60 184.9 10.9)"/><rect x="263.8" y="22.9" width="2" height="1.5" rx=".5" fill="#848484" transform="rotate(45 264.8 23.6)"/><rect x="82.4" y="1.6" width="1.5" height="1.5" rx=".5" fill="#6a6a6a" transform="rotate(60 83.2 2.4)"/><rect x="353.1" y="0.5" width="1" height="1" rx=".5" fill="#848484" transform="rotate(60 353.6 1.0)"/><rect x="18.5" y="16.6" width="2" height="1.5" rx=".5" fill="#848484" transform="rotate(-45 19.5 17.4)"/><rect x="214.9" y="2.5" width="2.5" height="1" rx=".5" fill="#8e8e8e" transform="rotate(-45 216.2 3.0)"/><rect x="6.5" y="12.4" width="2.5" height="1" rx=".5" fill="#8e8e8e" transform="rotate(45 7.8 12.9)"/><rect x="25.3" y="16.7" width="2" height="1.5" rx=".5" fill="#848484" transform="rotate(-45 26.3 17.4)"/><rect x="25.4" y="16.7" width="1.5" height="2" rx=".5" fill="#6a6a6a" transform="rotate(45 26.2 17.7)"/><rect x="383.1" y="21.3" width="1" height="1.5" rx=".5" fill="#787878" transform="rotate(0 383.6 22.1)"/><rect x="242.5" y="0.2" width="2" height="1.5" rx=".5" fill="#8e8e8e" transform="rotate(30 243.5 0.9)"/><rect x="40.1" y="9.4" width="2" height="1.5" rx=".5" fill="#8e8e8e" transform="rotate(45 41.1 10.2)"/><rect x="239.7" y="10.3" width="1" height="1.5" rx=".5" fill="#787878" transform="rotate(0 240.2 11.1)"/><rect x="405.8" y="19.4" width="2.5" height="2" rx=".5" fill="#787878" transform="rotate(30 407.0 20.4)"/><rect x="94.2" y="1.3" width="2" height="1.5" rx=".5" fill="#848484" transform="rotate(-30 95.2 2.1)"/><rect x="229.1" y="14.3" width="1.5" height="1.5" rx=".5" fill="#6a6a6a" transform="rotate(45 229.8 15.0)"/><rect x="431.2" y="13.6" width="1" height="1.5" rx=".5" fill="#5e5e5e" transform="rotate(60 431.7 14.4)"/><rect x="31.0" y="23.3" width="2.5" height="1.5" rx=".5" fill="#5e5e5e" transform="rotate(30 32.2 24.0)"/><rect x="103.0" y="11.0" width="1" height="1" rx=".5" fill="#8e8e8e" transform="rotate(60 103.5 11.5)"/><rect x="213.0" y="23.1" width="1.5" height="1" rx=".5" fill="#6a6a6a" transform="rotate(0 213.7 23.6)"/><rect x="84.5" y="21.2" width="1" height="1" rx=".5" fill="#6a6a6a" transform="rotate(-45 85.0 21.7)"/><rect x="412.4" y="20.2" width="1.5" height="1" rx=".5" fill="#5e5e5e" transform="rotate(-30 413.2 20.7)"/><rect x="262.9" y="19.8" width="1.5" height="1" rx=".5" fill="#9c9c9c" transform="rotate(-30 263.6 20.3)"/><rect x="316.6" y="7.0" width="1" height="2" rx=".5" fill="#6a6a6a" transform="rotate(0 317.1 8.0)"/><rect x="364.2" y="17.8" width="2" height="1" rx=".5" fill="#848484" transform="rotate(0 365.2 18.3)"/><rect x="94.6" y="2.3" width="1" height="1.5" rx=".5" fill="#6a6a6a" transform="rotate(-30 95.1 3.0)"/><rect x="390.7" y="17.3" width="1.5" height="1.5" rx=".5" fill="#6a6a6a" transform="rotate(-45 391.4 18.0)"/><rect x="26.6" y="17.3" width="1" height="1" rx=".5" fill="#848484" transform="rotate(30 27.1 17.8)"/><rect x="354.8" y="21.4" width="2.5" height="1.5" rx=".5" fill="#9c9c9c" transform="rotate(60 356.1 22.1)"/><rect x="337.1" y="7.6" width="1.5" height="1.5" rx=".5" fill="#8e8e8e" transform="rotate(-45 337.9 8.4)"/><rect x="100.1" y="23.4" width="2" height="1" rx=".5" fill="#848484" transform="rotate(0 101.1 23.9)"/><rect x="153.4" y="4.1" width="1.5" height="1" rx=".5" fill="#9c9c9c" transform="rotate(60 154.2 4.6)"/><rect x="325.6" y="5.1" width="1" height="1" rx=".5" fill="#848484" transform="rotate(30 326.1 5.6)"/><rect x="317.7" y="2.8" width="2.5" height="1.5" rx=".5" fill="#5e5e5e" transform="rotate(-30 318.9 3.6)"/><rect x="432.5" y="24.1" width="2" height="2" rx=".5" fill="#5e5e5e" transform="rotate(30 433.5 25.1)"/><rect x="229.0" y="0.5" width="2.5" height="1.5" rx=".5" fill="#5e5e5e" transform="rotate(0 230.3 1.2)"/><rect x="226.8" y="20.9" width="2" height="2" rx=".5" fill="#8e8e8e" transform="rotate(-45 227.8 21.9)"/><rect x="41.2" y="3.7" width="1.5" height="1" rx=".5" fill="#8e8e8e" transform="rotate(30 42.0 4.2)"/><rect x="15.2" y="14.7" width="1" height="1.5" rx=".5" fill="#6a6a6a" transform="rotate(0 15.7 15.4)"/><rect x="307.7" y="1.3" width="1.5" height="1.5" rx=".5" fill="#848484" transform="rotate(45 308.4 2.0)"/><rect x="116.0" y="18.4" width="1" height="1" rx=".5" fill="#787878" transform="rotate(-45 116.5 18.9)"/><rect x="32.6" y="13.4" width="1" height="2" rx=".5" fill="#5e5e5e" transform="rotate(-45 33.1 14.4)"/><rect x="75.7" y="9.9" width="1" height="1" rx=".5" fill="#5e5e5e" transform="rotate(60 76.2 10.4)"/><rect x="271.2" y="10.4" width="2" height="1" rx=".5" fill="#848484" transform="rotate(60 272.2 10.9)"/><rect x="392.1" y="2.2" width="2" height="1" rx=".5" fill="#787878" transform="rotate(0 393.1 2.7)"/><rect x="310.8" y="2.2" width="1" height="1.5" rx=".5" fill="#787878" transform="rotate(0 311.3 3.0)"/><rect x="122.5" y="2.9" width="1" height="1" rx=".5" fill="#6a6a6a" transform="rotate(45 123.0 3.4)"/><rect x="126.6" y="13.3" width="1.5" height="1.5" rx=".5" fill="#6a6a6a" transform="rotate(0 127.4 14.0)"/><rect x="266.3" y="1.1" width="1.5" height="1.5" rx=".5" fill="#6a6a6a" transform="rotate(30 267.1 1.8)"/><rect x="189.3" y="5.3" width="1" height="1" rx=".5" fill="#9c9c9c" transform="rotate(-45 189.8 5.8)"/><rect x="250.8" y="6.1" width="1" height="1" rx=".5" fill="#5e5e5e" transform="rotate(0 251.3 6.6)"/><rect x="228.6" y="19.6" width="2" height="1" rx=".5" fill="#9c9c9c" transform="rotate(-30 229.6 20.1)"/><rect x="107.5" y="18.4" width="1" height="1.5" rx=".5" fill="#5e5e5e" transform="rotate(45 108.0 19.1)"/><rect x="184.2" y="12.4" width="1.5" height="2" rx=".5" fill="#5e5e5e" transform="rotate(0 184.9 13.4)"/><rect x="311.4" y="5.1" width="1" height="2" rx=".5" fill="#8e8e8e" transform="rotate(-30 311.9 6.1)"/><rect x="384.2" y="19.8" width="1" height="2" rx=".5" fill="#787878" transform="rotate(0 384.7 20.8)"/><rect x="18.8" y="15.4" width="2" height="1" rx=".5" fill="#787878" transform="rotate(30 19.8 15.9)"/><rect x="38.9" y="18.8" width="2" height="1" rx=".5" fill="#5e5e5e" transform="rotate(30 39.9 19.3)"/><rect x="440.8" y="10.4" width="1.5" height="1" rx=".5" fill="#5e5e5e" transform="rotate(-45 441.5 10.9)"/><rect x="114.3" y="18.2" width="2" height="1" rx=".5" fill="#6a6a6a" transform="rotate(-45 115.3 18.7)"/><rect x="161.5" y="3.7" width="1" height="1" rx=".5" fill="#9c9c9c" transform="rotate(30 162.0 4.2)"/><rect x="332.3" y="1.7" width="1" height="1.5" rx=".5" fill="#5e5e5e" transform="rotate(45 332.8 2.4)"/><rect x="246.5" y="7.9" width="1" height="2" rx=".5" fill="#9c9c9c" transform="rotate(0 247.0 8.9)"/><rect x="92.6" y="15.3" width="2.5" height="1.5" rx=".5" fill="#848484" transform="rotate(0 93.8 16.1)"/><rect x="304.8" y="24.0" width="2" height="1" rx=".5" fill="#848484" transform="rotate(-30 305.8 24.5)"/><rect x="361.9" y="12.2" width="1.5" height="1.5" rx=".5" fill="#5e5e5e" transform="rotate(-30 362.6 12.9)"/><rect x="218.1" y="19.0" width="2" height="2" rx=".5" fill="#6a6a6a" transform="rotate(45 219.1 20.0)"/><rect x="180.2" y="15.4" width="2.5" height="2" rx=".5" fill="#787878" transform="rotate(-30 181.5 16.4)"/><rect x="450.2" y="13.3" width="2" height="1" rx=".5" fill="#5e5e5e" transform="rotate(-45 451.2 13.8)"/><rect x="368.6" y="6.4" width="2.5" height="1" rx=".5" fill="#6a6a6a" transform="rotate(0 369.8 6.9)"/><rect x="275.3" y="13.5" width="1.5" height="2" rx=".5" fill="#9c9c9c" transform="rotate(-30 276.1 14.5)"/><rect x="23.3" y="16.2" width="1.5" height="1.5" rx=".5" fill="#848484" transform="rotate(45 24.0 17.0)"/><rect x="444.2" y="5.6" width="2" height="1.5" rx=".5" fill="#9c9c9c" transform="rotate(60 445.2 6.4)"/><rect x="423.8" y="10.7" width="1.5" height="1" rx=".5" fill="#787878" transform="rotate(45 424.5 11.2)"/><rect x="282.4" y="23.3" width="2.5" height="1.5" rx=".5" fill="#848484" transform="rotate(45 283.7 24.0)"/><rect x="283.4" y="11.0" width="1.5" height="2" rx=".5" fill="#6a6a6a" transform="rotate(0 284.1 12.0)"/><rect x="165.4" y="20.9" width="2" height="1" rx=".5" fill="#787878" transform="rotate(30 166.4 21.4)"/><rect x="40.8" y="6.7" width="2" height="1.5" rx=".5" fill="#848484" transform="rotate(-30 41.8 7.4)"/><rect x="252.4" y="6.2" width="1" height="1" rx=".5" fill="#848484" transform="rotate(-45 252.9 6.7)"/><rect x="420.2" y="9.8" width="1.5" height="1" rx=".5" fill="#787878" transform="rotate(0 421.0 10.3)"/><rect x="104.6" y="21.8" width="2" height="1.5" rx=".5" fill="#787878" transform="rotate(45 105.6 22.5)"/><rect x="148.6" y="21.2" width="2.5" height="2" rx=".5" fill="#6a6a6a" transform="rotate(-45 149.9 22.2)"/><rect x="389.1" y="4.3" width="2" height="1" rx=".5" fill="#5e5e5e" transform="rotate(-45 390.1 4.8)"/><rect x="82.0" y="22.9" width="1.5" height="2" rx=".5" fill="#9c9c9c" transform="rotate(30 82.7 23.9)"/><rect x="345.0" y="16.3" width="2" height="2" rx=".5" fill="#9c9c9c" transform="rotate(45 346.0 17.3)"/><rect x="63.1" y="18.4" width="1.5" height="1.5" rx=".5" fill="#5e5e5e" transform="rotate(60 63.8 19.2)"/><rect x="292.4" y="10.9" width="1.5" height="1.5" rx=".5" fill="#787878" transform="rotate(-30 293.2 11.6)"/><rect x="332.2" y="17.0" width="2" height="1" rx=".5" fill="#9c9c9c" transform="rotate(45 333.2 17.5)"/><rect x="231.4" y="17.2" width="1" height="1" rx=".5" fill="#9c9c9c" transform="rotate(0 231.9 17.7)"/><rect x="260.7" y="10.7" width="2.5" height="2" rx=".5" fill="#6a6a6a" transform="rotate(-30 261.9 11.7)"/><rect x="284.5" y="11.2" width="1.5" height="1.5" rx=".5" fill="#6a6a6a" transform="rotate(0 285.2 12.0)"/><rect x="446.9" y="22.1" width="1" height="1" rx=".5" fill="#8e8e8e" transform="rotate(60 447.4 22.6)"/><rect x="238.2" y="24.1" width="1" height="2" rx=".5" fill="#9c9c9c" transform="rotate(30 238.7 25.1)"/><rect x="293.5" y="5.7" width="2.5" height="2" rx=".5" fill="#5e5e5e" transform="rotate(45 294.7 6.7)"/><rect x="257.1" y="10.0" width="1" height="1.5" rx=".5" fill="#848484" transform="rotate(-30 257.6 10.7)"/><rect x="168.7" y="22.3" width="1.5" height="1" rx=".5" fill="#8e8e8e" transform="rotate(45 169.5 22.8)"/><rect x="387.1" y="19.7" width="1.5" height="1" rx=".5" fill="#6a6a6a" transform="rotate(60 387.8 20.2)"/><rect x="378.4" y="1.3" width="1.5" height="2" rx=".5" fill="#6a6a6a" transform="rotate(-30 379.2 2.3)"/><rect x="146.1" y="1.4" width="1.5" height="1.5" rx=".5" fill="#787878" transform="rotate(-30 146.8 2.1)"/><rect x="87.5" y="7.8" width="1.5" height="1" rx=".5" fill="#8e8e8e" transform="rotate(30 88.3 8.3)"/><rect x="434.8" y="9.9" width="2" height="1.5" rx=".5" fill="#787878" transform="rotate(45 435.8 10.6)"/><rect x="149.7" y="19.4" width="1.5" height="1.5" rx=".5" fill="#5e5e5e" transform="rotate(0 150.4 20.2)"/><rect x="433.7" y="15.2" width="2" height="1.5" rx=".5" fill="#9c9c9c" transform="rotate(0 434.7 16.0)"/><rect x="365.2" y="7.7" width="1" height="1.5" rx=".5" fill="#8e8e8e" transform="rotate(45 365.7 8.5)"/><rect x="309.9" y="21.0" width="1.5" height="1" rx=".5" fill="#787878" transform="rotate(45 310.7 21.5)"/><rect x="169.6" y="22.4" width="2" height="1.5" rx=".5" fill="#9c9c9c" transform="rotate(0 170.6 23.2)"/><rect x="121.8" y="18.6" width="1" height="2" rx=".5" fill="#9c9c9c" transform="rotate(60 122.3 19.6)"/><rect x="143.1" y="14.7" width="1.5" height="1.5" rx=".5" fill="#6a6a6a" transform="rotate(0 143.8 15.5)"/><rect x="410.2" y="2.4" width="2" height="1.5" rx=".5" fill="#9c9c9c" transform="rotate(0 411.2 3.2)"/><rect x="436.2" y="4.3" width="1" height="1" rx=".5" fill="#848484" transform="rotate(45 436.7 4.8)"/><rect x="394.0" y="19.3" width="2.5" height="1.5" rx=".5" fill="#848484" transform="rotate(45 395.2 20.1)"/><rect x="233.7" y="8.5" width="2.5" height="1" rx=".5" fill="#9c9c9c" transform="rotate(-45 234.9 9.0)"/><rect x="67.0" y="18.0" width="1.5" height="1.5" rx=".5" fill="#6a6a6a" transform="rotate(0 67.8 18.8)"/><rect x="158.6" y="1.9" width="1.5" height="1" rx=".5" fill="#8e8e8e" transform="rotate(0 159.4 2.4)"/><rect x="399.1" y="16.3" width="2" height="1.5" rx=".5" fill="#848484" transform="rotate(0 400.1 17.1)"/><rect x="268.3" y="7.0" width="2.5" height="1" rx=".5" fill="#6a6a6a" transform="rotate(0 269.6 7.5)"/><rect x="314.5" y="18.7" width="2" height="1" rx=".5" fill="#787878" transform="rotate(0 315.5 19.2)"/><rect x="348.0" y="20.1" width="2" height="1.5" rx=".5" fill="#787878" transform="rotate(0 349.0 20.8)"/><rect x="303.4" y="21.2" width="1.5" height="2" rx=".5" fill="#787878" transform="rotate(-30 304.2 22.2)"/><rect x="30.8" y="14.5" width="2.5" height="2" rx=".5" fill="#787878" transform="rotate(60 32.1 15.5)"/><rect x="99.9" y="5.5" width="1" height="1.5" rx=".5" fill="#9c9c9c" transform="rotate(60 100.4 6.3)"/><rect x="456.9" y="19.9" width="1.5" height="1" rx=".5" fill="#9c9c9c" transform="rotate(60 457.7 20.4)"/><rect x="33.6" y="20.8" width="1.5" height="1" rx=".5" fill="#5e5e5e" transform="rotate(45 34.4 21.3)"/><rect x="294.9" y="3.2" width="1.5" height="2" rx=".5" fill="#5e5e5e" transform="rotate(45 295.6 4.2)"/><rect x="276.8" y="14.8" width="1" height="1" rx=".5" fill="#8e8e8e" transform="rotate(-45 277.3 15.3)"/><rect x="219.0" y="11.9" width="1.5" height="1.5" rx=".5" fill="#787878" transform="rotate(60 219.8 12.6)"/><rect x="265.9" y="5.6" width="2.5" height="1" rx=".5" fill="#787878" transform="rotate(-45 267.1 6.1)"/><rect x="456.3" y="14.4" width="2" height="1" rx=".5" fill="#6a6a6a" transform="rotate(-45 457.3 14.9)"/><rect x="80.9" y="19.8" width="1.5" height="1.5" rx=".5" fill="#787878" transform="rotate(0 81.7 20.6)"/><rect x="447.7" y="6.5" width="1" height="2" rx=".5" fill="#5e5e5e" transform="rotate(45 448.2 7.5)"/><rect x="182.8" y="23.6" width="1.5" height="1" rx=".5" fill="#9c9c9c" transform="rotate(-45 183.6 24.1)"/><rect x="413.3" y="1.1" width="1.5" height="2" rx=".5" fill="#787878" transform="rotate(-30 414.1 2.1)"/><rect x="462.3" y="1.5" width="1.5" height="2" rx=".5" fill="#6a6a6a" transform="rotate(45 463.1 2.5)"/><rect x="212.4" y="16.5" width="2" height="2" rx=".5" fill="#848484" transform="rotate(0 213.4 17.5)"/><rect x="160.0" y="4.9" width="1.5" height="1" rx=".5" fill="#787878" transform="rotate(-45 160.7 5.4)"/><rect x="90.6" y="18.3" width="2" height="1" rx=".5" fill="#848484" transform="rotate(-45 91.6 18.8)"/><rect x="92.7" y="17.2" width="1" height="1.5" rx=".5" fill="#6a6a6a" transform="rotate(60 93.2 18.0)"/><rect x="354.1" y="20.7" width="1.5" height="1" rx=".5" fill="#9c9c9c" transform="rotate(-30 354.9 21.2)"/><rect x="287.3" y="0.7" width="1.5" height="1" rx=".5" fill="#848484" transform="rotate(0 288.0 1.2)"/><rect x="391.3" y="15.5" width="2" height="2" rx=".5" fill="#787878" transform="rotate(60 392.3 16.5)"/><rect x="166.2" y="4.0" width="2" height="1.5" rx=".5" fill="#787878" transform="rotate(30 167.2 4.8)"/><rect x="48.9" y="18.1" width="2" height="1.5" rx=".5" fill="#848484" transform="rotate(0 49.9 18.8)"/><rect x="377.3" y="11.2" width="1" height="1.5" rx=".5" fill="#5e5e5e" transform="rotate(-45 377.8 11.9)"/><rect x="71.9" y="19.0" width="1.5" height="1.5" rx=".5" fill="#5e5e5e" transform="rotate(30 72.7 19.8)"/><rect x="372.0" y="11.9" width="2.5" height="1" rx=".5" fill="#5e5e5e" transform="rotate(60 373.2 12.4)"/><rect x="264.2" y="12.4" width="1" height="1.5" rx=".5" fill="#787878" transform="rotate(-30 264.7 13.2)"/><rect x="9.5" y="22.2" width="2" height="1.5" rx=".5" fill="#8e8e8e" transform="rotate(45 10.5 23.0)"/><rect x="363.2" y="17.8" width="1" height="1.5" rx=".5" fill="#6a6a6a" transform="rotate(0 363.7 18.5)"/><rect x="5.5" y="5.0" width="2" height="2" rx=".5" fill="#848484" transform="rotate(0 6.5 6.0)"/><rect x="3.5" y="20.6" width="2.5" height="1" rx=".5" fill="#848484" transform="rotate(-45 4.8 21.1)"/><rect x="19.8" y="22.0" width="2" height="1" rx=".5" fill="#787878" transform="rotate(30 20.8 22.5)"/><rect x="292.7" y="21.9" width="1.5" height="1" rx=".5" fill="#5e5e5e" transform="rotate(0 293.4 22.4)"/><rect x="95.9" y="9.0" width="1" height="1" rx=".5" fill="#8e8e8e" transform="rotate(0 96.4 9.5)"/><rect x="442.6" y="10.5" width="2" height="2" rx=".5" fill="#9c9c9c" transform="rotate(-30 443.6 11.5)"/><rect x="331.6" y="10.5" width="1" height="2" rx=".5" fill="#9c9c9c" transform="rotate(-30 332.1 11.5)"/><rect x="25.0" y="11.8" width="1.5" height="1" rx=".5" fill="#9c9c9c" transform="rotate(-30 25.7 12.3)"/><rect x="219.7" y="21.8" width="2" height="1" rx=".5" fill="#5e5e5e" transform="rotate(45 220.7 22.3)"/><rect x="281.0" y="1.8" width="1" height="1" rx=".5" fill="#5e5e5e" transform="rotate(45 281.5 2.3)"/><rect x="265.5" y="18.5" width="1" height="1" rx=".5" fill="#6a6a6a" transform="rotate(0 266.0 19.0)"/><rect x="425.8" y="5.2" width="1" height="1" rx=".5" fill="#848484" transform="rotate(0 426.3 5.7)"/><rect x="188.5" y="23.3" width="1" height="1" rx=".5" fill="#8e8e8e" transform="rotate(-30 189.0 23.8)"/><rect x="271.1" y="10.4" width="1" height="1" rx=".5" fill="#848484" transform="rotate(0 271.6 10.9)"/><rect x="223.8" y="23.6" width="2.5" height="1" rx=".5" fill="#6a6a6a" transform="rotate(0 225.1 24.1)"/><rect x="378.0" y="4.0" width="2" height="1.5" rx=".5" fill="#5e5e5e" transform="rotate(60 379.0 4.8)"/><rect x="369.1" y="22.0" width="1" height="1" rx=".5" fill="#5e5e5e" transform="rotate(60 369.6 22.5)"/><rect x="303.5" y="1.9" width="2" height="2" rx=".5" fill="#8e8e8e" transform="rotate(60 304.5 2.9)"/><rect x="370.9" y="13.4" width="2" height="1" rx=".5" fill="#9c9c9c" transform="rotate(60 371.9 13.9)"/><rect x="288.0" y="11.5" width="2" height="1" rx=".5" fill="#8e8e8e" transform="rotate(-30 289.0 12.0)"/><rect x="97.3" y="4.6" width="2" height="1.5" rx=".5" fill="#6a6a6a" transform="rotate(0 98.3 5.4)"/><rect x="331.6" y="18.0" width="2" height="1.5" rx=".5" fill="#5e5e5e" transform="rotate(60 332.6 18.7)"/><rect x="457.7" y="13.6" width="1.5" height="1" rx=".5" fill="#5e5e5e" transform="rotate(-30 458.5 14.1)"/><rect x="112.1" y="21.8" width="1" height="1" rx=".5" fill="#787878" transform="rotate(30 112.6 22.3)"/><rect x="142.0" y="18.7" width="1" height="1.5" rx=".5" fill="#8e8e8e" transform="rotate(60 142.5 19.4)"/><rect x="458.9" y="19.1" width="1" height="1" rx=".5" fill="#5e5e5e" transform="rotate(0 459.4 19.6)"/><rect x="52.8" y="17.2" width="2" height="1" rx=".5" fill="#8e8e8e" transform="rotate(45 53.8 17.7)"/><rect x="213.2" y="9.7" width="2" height="2" rx=".5" fill="#9c9c9c" transform="rotate(0 214.2 10.7)"/><rect x="429.0" y="18.2" width="2.5" height="1" rx=".5" fill="#5e5e5e" transform="rotate(-45 430.3 18.7)"/><rect x="27.1" y="18.1" width="2" height="1" rx=".5" fill="#848484" transform="rotate(-45 28.1 18.6)"/><rect x="411.6" y="4.4" width="1.5" height="1.5" rx=".5" fill="#787878" transform="rotate(-30 412.3 5.2)"/><rect x="62.2" y="19.3" width="2.5" height="1.5" rx=".5" fill="#5e5e5e" transform="rotate(30 63.4 20.0)"/><rect x="179.3" y="4.0" width="1" height="1.5" rx=".5" fill="#8e8e8e" transform="rotate(-45 179.8 4.8)"/><rect x="353.1" y="18.4" width="1.5" height="1.5" rx=".5" fill="#6a6a6a" transform="rotate(0 353.8 19.1)"/><rect x="193.4" y="0.3" width="1" height="2" rx=".5" fill="#787878" transform="rotate(-45 193.9 1.3)"/><rect x="153.4" y="19.1" width="2.5" height="1" rx=".5" fill="#787878" transform="rotate(-45 154.7 19.6)"/><rect x="37.2" y="4.0" width="1" height="1.5" rx=".5" fill="#848484" transform="rotate(-30 37.7 4.7)"/><rect x="158.0" y="1.6" width="1" height="1.5" rx=".5" fill="#6a6a6a" transform="rotate(0 158.5 2.4)"/><rect x="248.5" y="16.2" width="2" height="1" rx=".5" fill="#848484" transform="rotate(60 249.5 16.7)"/><rect x="323.5" y="23.9" width="1" height="1" rx=".5" fill="#6a6a6a" transform="rotate(30 324.0 24.4)"/><rect x="353.6" y="21.7" width="2" height="1.5" rx=".5" fill="#848484" transform="rotate(-30 354.6 22.4)"/><rect x="55.0" y="23.2" width="2" height="1.5" rx=".5" fill="#8e8e8e" transform="rotate(-30 56.0 23.9)"/><rect x="77.8" y="23.2" width="1.5" height="1.5" rx=".5" fill="#6a6a6a" transform="rotate(30 78.6 23.9)"/><rect x="120.1" y="1.0" width="2" height="1" rx=".5" fill="#9c9c9c" transform="rotate(30 121.1 1.5)"/><rect x="289.5" y="15.8" width="2" height="2" rx=".5" fill="#6a6a6a" transform="rotate(-30 290.5 16.8)"/><rect x="32.3" y="1.7" width="1.5" height="1.5" rx=".5" fill="#5e5e5e" transform="rotate(0 33.1 2.5)"/><rect x="342.2" y="13.1" width="1" height="1.5" rx=".5" fill="#5e5e5e" transform="rotate(0 342.7 13.9)"/><rect x="260.9" y="17.4" width="2" height="2" rx=".5" fill="#9c9c9c" transform="rotate(30 261.9 18.4)"/><rect x="431.8" y="11.0" width="1" height="1.5" rx=".5" fill="#787878" transform="rotate(45 432.3 11.8)"/><rect x="191.5" y="17.1" width="1.5" height="1" rx=".5" fill="#848484" transform="rotate(30 192.3 17.6)"/><rect x="151.1" y="5.3" width="1.5" height="1" rx=".5" fill="#5e5e5e" transform="rotate(-45 151.8 5.8)"/><rect x="97.7" y="8.6" width="1.5" height="1.5" rx=".5" fill="#8e8e8e" transform="rotate(0 98.5 9.4)"/><rect x="396.6" y="2.1" width="1" height="1" rx=".5" fill="#9c9c9c" transform="rotate(-30 397.1 2.6)"/><rect x="275.3" y="16.4" width="1" height="1" rx=".5" fill="#6a6a6a" transform="rotate(45 275.8 16.9)"/><rect x="45.3" y="24.0" width="1.5" height="1.5" rx=".5" fill="#9c9c9c" transform="rotate(0 46.0 24.8)"/><rect x="267.2" y="5.5" width="1" height="1.5" rx=".5" fill="#5e5e5e" transform="rotate(30 267.7 6.2)"/><rect x="399.6" y="3.2" width="1.5" height="1.5" rx=".5" fill="#8e8e8e" transform="rotate(-30 400.3 4.0)"/><rect x="82.2" y="9.1" width="2" height="1.5" rx=".5" fill="#787878" transform="rotate(30 83.2 9.8)"/><rect x="77.2" y="16.5" width="2.5" height="1" rx=".5" fill="#6a6a6a" transform="rotate(30 78.5 17.0)"/><rect x="356.8" y="23.0" width="1" height="1" rx=".5" fill="#9c9c9c" transform="rotate(0 357.3 23.5)"/><rect x="415.1" y="18.7" width="2.5" height="1.5" rx=".5" fill="#6a6a6a" transform="rotate(-30 416.3 19.4)"/><rect x="418.8" y="6.7" width="1" height="1" rx=".5" fill="#5e5e5e" transform="rotate(-30 419.3 7.2)"/><rect x="176.8" y="9.3" width="1.5" height="1" rx=".5" fill="#848484" transform="rotate(45 177.5 9.8)"/><rect x="228.1" y="2.7" width="2" height="1.5" rx=".5" fill="#5e5e5e" transform="rotate(45 229.1 3.5)"/><rect x="55.2" y="12.0" width="1" height="1" rx=".5" fill="#848484" transform="rotate(45 55.7 12.5)"/><rect x="28.2" y="4.7" width="1.5" height="1.5" rx=".5" fill="#848484" transform="rotate(45 29.0 5.5)"/><rect x="112.1" y="8.6" width="1" height="1" rx=".5" fill="#8e8e8e" transform="rotate(0 112.6 9.1)"/><rect x="226.5" y="5.3" width="2" height="1.5" rx=".5" fill="#5e5e5e" transform="rotate(0 227.5 6.1)"/><rect x="442.6" y="12.6" width="1" height="2" rx=".5" fill="#6a6a6a" transform="rotate(60 443.1 13.6)"/><rect x="405.5" y="5.2" width="1" height="1.5" rx=".5" fill="#787878" transform="rotate(45 406.0 6.0)"/><rect x="432.9" y="11.5" width="2" height="1" rx=".5" fill="#5e5e5e" transform="rotate(-45 433.9 12.0)"/><rect x="212.5" y="7.8" width="1" height="1.5" rx=".5" fill="#9c9c9c" transform="rotate(-45 213.0 8.6)"/><rect x="169.2" y="3.0" width="1.5" height="1.5" rx=".5" fill="#787878" transform="rotate(0 169.9 3.7)"/><rect x="238.2" y="15.1" width="2.5" height="2" rx=".5" fill="#5e5e5e" transform="rotate(-30 239.5 16.1)"/><rect x="220.1" y="18.4" width="2" height="1" rx=".5" fill="#848484" transform="rotate(-30 221.1 18.9)"/><rect x="283.7" y="15.9" width="1" height="1.5" rx=".5" fill="#787878" transform="rotate(-30 284.2 16.7)"/><rect x="19.1" y="21.2" width="2" height="1" rx=".5" fill="#9c9c9c" transform="rotate(0 20.1 21.7)"/><rect x="6.8" y="11.5" width="2" height="1" rx=".5" fill="#848484" transform="rotate(0 7.8 12.0)"/><rect x="398.7" y="7.3" width="1" height="1" rx=".5" fill="#787878" transform="rotate(-30 399.2 7.8)"/><rect x="147.3" y="4.9" width="1" height="1.5" rx=".5" fill="#5e5e5e" transform="rotate(-30 147.8 5.7)"/><rect x="77.2" y="9.1" width="1.5" height="1" rx=".5" fill="#5e5e5e" transform="rotate(45 78.0 9.6)"/><rect x="174.8" y="20.9" width="2" height="1.5" rx=".5" fill="#9c9c9c" transform="rotate(0 175.8 21.6)"/><rect x="290.6" y="5.3" width="2.5" height="1.5" rx=".5" fill="#6a6a6a" transform="rotate(30 291.9 6.1)"/><rect x="468.8" y="11.2" width="1" height="1.5" rx=".5" fill="#5e5e5e" transform="rotate(45 469.3 11.9)"/><rect x="82.8" y="10.4" width="2" height="1" rx=".5" fill="#8e8e8e" transform="rotate(30 83.8 10.9)"/><rect x="360.4" y="6.1" width="2.5" height="1" rx=".5" fill="#6a6a6a" transform="rotate(60 361.6 6.6)"/><rect x="380.4" y="14.6" width="1.5" height="2" rx=".5" fill="#8e8e8e" transform="rotate(-30 381.2 15.6)"/><rect x="180.8" y="6.7" width="2" height="1" rx=".5" fill="#787878" transform="rotate(45 181.8 7.2)"/><rect x="69.5" y="3.6" width="2" height="1" rx=".5" fill="#8e8e8e" transform="rotate(30 70.5 4.1)"/><rect x="415.8" y="1.4" width="1" height="1.5" rx=".5" fill="#6a6a6a" transform="rotate(0 416.3 2.2)"/><rect x="274.4" y="11.1" width="1.5" height="1.5" rx=".5" fill="#8e8e8e" transform="rotate(-30 275.1 11.8)"/><rect x="104.1" y="3.7" width="2" height="1.5" rx=".5" fill="#9c9c9c" transform="rotate(45 105.1 4.5)"/><rect x="43.7" y="10.9" width="2.5" height="1" rx=".5" fill="#5e5e5e" transform="rotate(30 45.0 11.4)"/><rect x="33.1" y="18.7" width="1" height="1" rx=".5" fill="#848484" transform="rotate(0 33.6 19.2)"/><rect x="247.5" y="20.5" width="2.5" height="2" rx=".5" fill="#8e8e8e" transform="rotate(0 248.8 21.5)"/><rect x="208.8" y="12.0" width="2" height="2" rx=".5" fill="#9c9c9c" transform="rotate(-45 209.8 13.0)"/><rect x="172.8" y="13.0" width="2" height="1" rx=".5" fill="#848484" transform="rotate(0 173.8 13.5)"/><rect x="277.5" y="6.5" width="1.5" height="1" rx=".5" fill="#9c9c9c" transform="rotate(30 278.2 7.0)"/><rect x="301.3" y="10.1" width="2" height="1.5" rx=".5" fill="#9c9c9c" transform="rotate(-45 302.3 10.9)"/><rect x="33.9" y="18.1" width="2" height="1.5" rx=".5" fill="#6a6a6a" transform="rotate(-30 34.9 18.9)"/><rect x="153.6" y="22.5" width="1.5" height="1.5" rx=".5" fill="#787878" transform="rotate(-30 154.4 23.3)"/><rect x="356.8" y="23.4" width="1" height="1.5" rx=".5" fill="#787878" transform="rotate(-45 357.3 24.1)"/><rect x="455.5" y="24.2" width="1" height="1" rx=".5" fill="#8e8e8e" transform="rotate(45 456.0 24.7)"/><rect x="187.6" y="3.6" width="2" height="1" rx=".5" fill="#787878" transform="rotate(-30 188.6 4.1)"/><rect x="331.9" y="9.3" width="1.5" height="1.5" rx=".5" fill="#6a6a6a" transform="rotate(0 332.7 10.1)"/><rect x="300.1" y="21.7" width="1" height="1" rx=".5" fill="#8e8e8e" transform="rotate(0 300.6 22.2)"/><rect x="414.4" y="15.3" width="2" height="1" rx=".5" fill="#848484" transform="rotate(60 415.4 15.8)"/><rect x="212.5" y="8.2" width="2" height="1.5" rx=".5" fill="#787878" transform="rotate(-30 213.5 8.9)"/><rect x="354.9" y="7.7" width="2.5" height="1.5" rx=".5" fill="#9c9c9c" transform="rotate(0 356.2 8.5)"/><rect x="317.0" y="19.1" width="1.5" height="1.5" rx=".5" fill="#5e5e5e" transform="rotate(-30 317.8 19.9)"/><rect x="359.1" y="20.7" width="2" height="1" rx=".5" fill="#9c9c9c" transform="rotate(0 360.1 21.2)"/><rect x="330.6" y="23.6" width="1" height="1.5" rx=".5" fill="#787878" transform="rotate(-30 331.1 24.4)"/><rect x="119.5" y="20.1" width="2" height="1.5" rx=".5" fill="#9c9c9c" transform="rotate(-45 120.5 20.8)"/><rect x="276.1" y="4.6" width="1" height="2" rx=".5" fill="#8e8e8e" transform="rotate(45 276.6 5.6)"/><rect x="340.3" y="6.9" width="1" height="1" rx=".5" fill="#6a6a6a" transform="rotate(0 340.8 7.4)"/><rect x="326.4" y="0.4" width="1" height="1" rx=".5" fill="#787878" transform="rotate(-30 326.9 0.9)"/><rect x="368.3" y="6.1" width="1" height="1" rx=".5" fill="#5e5e5e" transform="rotate(0 368.8 6.6)"/><rect x="454.7" y="3.9" width="1.5" height="1" rx=".5" fill="#8e8e8e" transform="rotate(30 455.4 4.4)"/><rect x="149.9" y="10.2" width="1.5" height="1.5" rx=".5" fill="#787878" transform="rotate(0 150.7 11.0)"/><rect x="434.6" y="6.7" width="1.5" height="1" rx=".5" fill="#5e5e5e" transform="rotate(60 435.4 7.2)"/><rect x="24.5" y="23.8" width="1" height="1.5" rx=".5" fill="#787878" transform="rotate(60 25.0 24.6)"/><rect x="230.2" y="4.9" width="2" height="1" rx=".5" fill="#6a6a6a" transform="rotate(-45 231.2 5.4)"/><rect x="324.3" y="9.7" width="2" height="1" rx=".5" fill="#6a6a6a" transform="rotate(30 325.3 10.2)"/><rect x="373.9" y="19.9" width="1" height="1" rx=".5" fill="#8e8e8e" transform="rotate(0 374.4 20.4)"/><rect x="89.0" y="17.3" width="2.5" height="1.5" rx=".5" fill="#6a6a6a" transform="rotate(60 90.2 18.1)"/><rect x="43.3" y="16.2" width="2" height="1.5" rx=".5" fill="#6a6a6a" transform="rotate(0 44.3 17.0)"/><rect x="90.4" y="14.3" width="1" height="1.5" rx=".5" fill="#6a6a6a" transform="rotate(-45 90.9 15.0)"/><rect x="120.8" y="10.4" width="2" height="1.5" rx=".5" fill="#9c9c9c" transform="rotate(0 121.8 11.1)"/><rect x="14.5" y="17.5" width="1" height="2" rx=".5" fill="#787878" transform="rotate(0 15.0 18.5)"/><rect x="299.6" y="17.2" width="2" height="1" rx=".5" fill="#6a6a6a" transform="rotate(0 300.6 17.7)"/><rect x="462.3" y="24.6" width="1.5" height="1" rx=".5" fill="#6a6a6a" transform="rotate(0 463.1 25.1)"/><rect x="105.4" y="18.9" width="2.5" height="1.5" rx=".5" fill="#848484" transform="rotate(30 106.6 19.6)"/><rect x="244.5" y="7.3" width="2.5" height="2" rx=".5" fill="#787878" transform="rotate(0 245.7 8.3)"/><rect x="137.6" y="8.2" width="1" height="1" rx=".5" fill="#6a6a6a" transform="rotate(-30 138.1 8.7)"/><rect x="411.4" y="11.3" width="1" height="1.5" rx=".5" fill="#5e5e5e" transform="rotate(-45 411.9 12.1)"/><rect x="237.4" y="12.8" width="1.5" height="1.5" rx=".5" fill="#8e8e8e" transform="rotate(30 238.2 13.5)"/><rect x="363.7" y="2.4" width="1" height="2" rx=".5" fill="#848484" transform="rotate(45 364.2 3.4)"/><rect x="226.3" y="6.0" width="2" height="2" rx=".5" fill="#6a6a6a" transform="rotate(45 227.3 7.0)"/><rect x="148.8" y="11.7" width="2" height="1.5" rx=".5" fill="#9c9c9c" transform="rotate(30 149.8 12.4)"/><rect x="250.4" y="19.1" width="2" height="1.5" rx=".5" fill="#8e8e8e" transform="rotate(0 251.4 19.8)"/><rect x="48.7" y="11.2" width="2" height="1.5" rx=".5" fill="#6a6a6a" transform="rotate(0 49.7 11.9)"/><rect x="402.0" y="23.3" width="2" height="1" rx=".5" fill="#5e5e5e" transform="rotate(45 403.0 23.8)"/><rect x="320.3" y="1.2" width="2" height="1" rx=".5" fill="#9c9c9c" transform="rotate(-45 321.3 1.7)"/><rect x="159.8" y="12.7" width="1" height="1.5" rx=".5" fill="#9c9c9c" transform="rotate(0 160.3 13.5)"/><rect x="335.7" y="18.0" width="1" height="1.5" rx=".5" fill="#9c9c9c" transform="rotate(0 336.2 18.8)"/><rect x="248.3" y="17.4" width="1.5" height="1" rx=".5" fill="#8e8e8e" transform="rotate(60 249.1 17.9)"/><rect x="390.7" y="4.2" width="1" height="1.5" rx=".5" fill="#848484" transform="rotate(-30 391.2 4.9)"/><rect x="158.5" y="3.1" width="1" height="1.5" rx=".5" fill="#8e8e8e" transform="rotate(0 159.0 3.8)"/><rect x="42.5" y="23.1" width="2" height="1.5" rx=".5" fill="#848484" transform="rotate(0 43.5 23.8)"/><rect x="448.3" y="14.8" width="1.5" height="1.5" rx=".5" fill="#848484" transform="rotate(-30 449.1 15.5)"/><rect x="94.2" y="19.5" width="2" height="1" rx=".5" fill="#848484" transform="rotate(0 95.2 20.0)"/><rect x="406.1" y="12.8" width="2.5" height="1" rx=".5" fill="#5e5e5e" transform="rotate(30 407.3 13.3)"/><rect x="240.0" y="20.2" width="2" height="1" rx=".5" fill="#8e8e8e" transform="rotate(30 241.0 20.7)"/><rect x="146.3" y="17.8" width="2.5" height="1.5" rx=".5" fill="#9c9c9c" transform="rotate(0 147.5 18.6)"/><rect x="309.4" y="1.7" width="1" height="1" rx=".5" fill="#8e8e8e" transform="rotate(30 309.9 2.2)"/><rect x="4.4" y="18.9" width="2" height="1" rx=".5" fill="#5e5e5e" transform="rotate(30 5.4 19.4)"/><rect x="106.6" y="7.8" width="1.5" height="1.5" rx=".5" fill="#787878" transform="rotate(30 107.4 8.6)"/><rect x="289.5" y="9.9" width="1.5" height="1" rx=".5" fill="#6a6a6a" transform="rotate(0 290.3 10.4)"/><rect x="426.1" y="9.8" width="2" height="2" rx=".5" fill="#6a6a6a" transform="rotate(-45 427.1 10.8)"/><rect x="430.8" y="19.9" width="2" height="1" rx=".5" fill="#6a6a6a" transform="rotate(-45 431.8 20.4)"/><rect x="143.6" y="12.4" width="1.5" height="1.5" rx=".5" fill="#848484" transform="rotate(-45 144.4 13.1)"/><rect x="143.5" y="5.9" width="2" height="1.5" rx=".5" fill="#9c9c9c" transform="rotate(-45 144.5 6.7)"/><rect x="25.7" y="21.9" width="1" height="1.5" rx=".5" fill="#6a6a6a" transform="rotate(-45 26.2 22.7)"/><rect x="439.5" y="18.0" width="2" height="2" rx=".5" fill="#9c9c9c" transform="rotate(0 440.5 19.0)"/><rect x="371.9" y="20.6" width="1.5" height="1.5" rx=".5" fill="#848484" transform="rotate(-45 372.7 21.4)"/><rect x="215.8" y="18.6" width="2.5" height="1" rx=".5" fill="#9c9c9c" transform="rotate(30 217.1 19.1)"/><rect x="169.3" y="1.6" width="1" height="1.5" rx=".5" fill="#5e5e5e" transform="rotate(-45 169.8 2.4)"/><rect x="11.5" y="9.3" width="2" height="1" rx=".5" fill="#848484" transform="rotate(-30 12.5 9.8)"/><rect x="24.1" y="21.0" width="2" height="1.5" rx=".5" fill="#787878" transform="rotate(-45 25.1 21.8)"/><rect x="223.0" y="9.0" width="2" height="2" rx=".5" fill="#848484" transform="rotate(30 224.0 10.0)"/><rect x="421.7" y="18.0" width="1.5" height="1.5" rx=".5" fill="#8e8e8e" transform="rotate(0 422.4 18.7)"/><rect x="280.8" y="24.6" width="2" height="1" rx=".5" fill="#848484" transform="rotate(45 281.8 25.1)"/><rect x="194.8" y="21.8" width="2" height="1" rx=".5" fill="#6a6a6a" transform="rotate(0 195.8 22.3)"/><rect x="169.4" y="9.2" width="2" height="1" rx=".5" fill="#9c9c9c" transform="rotate(60 170.4 9.7)"/><rect x="16.1" y="14.7" width="1.5" height="1" rx=".5" fill="#9c9c9c" transform="rotate(0 16.9 15.2)"/><rect x="200.8" y="2.3" width="2" height="1.5" rx=".5" fill="#8e8e8e" transform="rotate(-45 201.8 3.1)"/><rect x="348.7" y="2.3" width="2.5" height="2" rx=".5" fill="#5e5e5e" transform="rotate(0 349.9 3.3)"/><rect x="171.5" y="23.0" width="2" height="1.5" rx=".5" fill="#6a6a6a" transform="rotate(45 172.5 23.8)"/><rect x="298.5" y="2.2" width="1.5" height="1" rx=".5" fill="#787878" transform="rotate(30 299.2 2.7)"/><rect x="465.1" y="12.6" width="1" height="1.5" rx=".5" fill="#8e8e8e" transform="rotate(-45 465.6 13.4)"/><rect x="234.6" y="16.1" width="1" height="2" rx=".5" fill="#848484" transform="rotate(-45 235.1 17.1)"/><rect x="263.2" y="19.7" width="1" height="1" rx=".5" fill="#9c9c9c" transform="rotate(60 263.7 20.2)"/><rect x="411.7" y="2.8" width="2" height="1.5" rx=".5" fill="#5e5e5e" transform="rotate(0 412.7 3.6)"/><rect x="96.8" y="0.9" width="2" height="1" rx=".5" fill="#8e8e8e" transform="rotate(45 97.8 1.4)"/><rect x="437.4" y="14.0" width="1" height="1" rx=".5" fill="#9c9c9c" transform="rotate(45 437.9 14.5)"/><rect x="376.3" y="10.4" width="2" height="1.5" rx=".5" fill="#8e8e8e" transform="rotate(30 377.3 11.1)"/><rect x="109.1" y="5.3" width="2" height="1.5" rx=".5" fill="#5e5e5e" transform="rotate(0 110.1 6.1)"/><rect x="362.4" y="19.9" width="2" height="1" rx=".5" fill="#9c9c9c" transform="rotate(-45 363.4 20.4)"/><rect x="110.7" y="6.5" width="2" height="1" rx=".5" fill="#6a6a6a" transform="rotate(60 111.7 7.0)"/><rect x="81.5" y="21.6" width="2" height="1" rx=".5" fill="#9c9c9c" transform="rotate(45 82.5 22.1)"/><rect x="333.7" y="17.4" width="1.5" height="1.5" rx=".5" fill="#8e8e8e" transform="rotate(0 334.5 18.1)"/><rect x="228.3" y="0.3" width="2.5" height="1" rx=".5" fill="#5e5e5e" transform="rotate(-45 229.6 0.8)"/><rect x="262.1" y="10.2" width="1.5" height="1.5" rx=".5" fill="#6a6a6a" transform="rotate(-30 262.8 10.9)"/><rect x="101.3" y="13.5" width="1.5" height="1" rx=".5" fill="#6a6a6a" transform="rotate(0 102.0 14.0)"/><rect x="75.1" y="10.1" width="2" height="1.5" rx=".5" fill="#787878" transform="rotate(30 76.1 10.8)"/><rect x="75.9" y="5.6" width="1" height="1" rx=".5" fill="#6a6a6a" transform="rotate(60 76.4 6.1)"/><rect x="148.1" y="12.4" width="1" height="1.5" rx=".5" fill="#848484" transform="rotate(-45 148.6 13.1)"/><rect x="206.0" y="23.8" width="1.5" height="1.5" rx=".5" fill="#787878" transform="rotate(45 206.8 24.5)"/><rect x="242.7" y="11.8" width="2" height="1" rx=".5" fill="#8e8e8e" transform="rotate(0 243.7 12.3)"/><rect x="109.0" y="8.9" width="1.5" height="1" rx=".5" fill="#848484" transform="rotate(0 109.7 9.4)"/><rect x="165.8" y="10.4" width="1.5" height="1.5" rx=".5" fill="#9c9c9c" transform="rotate(0 166.6 11.2)"/><rect x="217.7" y="20.7" width="2" height="1" rx=".5" fill="#5e5e5e" transform="rotate(-45 218.7 21.2)"/><rect x="367.4" y="11.7" width="2" height="1.5" rx=".5" fill="#848484" transform="rotate(60 368.4 12.4)"/><rect x="139.4" y="13.8" width="2" height="1" rx=".5" fill="#9c9c9c" transform="rotate(0 140.4 14.3)"/><rect x="293.6" y="16.6" width="1.5" height="1.5" rx=".5" fill="#8e8e8e" transform="rotate(60 294.3 17.3)"/><rect x="317.6" y="8.1" width="1" height="2" rx=".5" fill="#8e8e8e" transform="rotate(45 318.1 9.1)"/><rect x="305.3" y="7.3" width="1" height="1" rx=".5" fill="#8e8e8e" transform="rotate(30 305.8 7.8)"/><rect x="378.0" y="10.8" width="1.5" height="1.5" rx=".5" fill="#8e8e8e" transform="rotate(0 378.8 11.6)"/><rect x="163.8" y="13.0" width="1.5" height="1.5" rx=".5" fill="#5e5e5e" transform="rotate(30 164.6 13.8)"/><rect x="118.9" y="14.9" width="2" height="1.5" rx=".5" fill="#5e5e5e" transform="rotate(30 119.9 15.7)"/><rect x="374.5" y="1.4" width="2.5" height="2" rx=".5" fill="#5e5e5e" transform="rotate(30 375.7 2.4)"/><rect x="417.8" y="7.3" width="1.5" height="1" rx=".5" fill="#9c9c9c" transform="rotate(45 418.5 7.8)"/><rect x="10.2" y="5.0" width="1" height="1" rx=".5" fill="#6a6a6a" transform="rotate(30 10.7 5.5)"/><rect x="106.7" y="1.7" width="1.5" height="1" rx=".5" fill="#9c9c9c" transform="rotate(-30 107.4 2.2)"/><rect x="425.4" y="2.4" width="1" height="2" rx=".5" fill="#8e8e8e" transform="rotate(0 425.9 3.4)"/><rect x="361.7" y="3.9" width="2.5" height="1" rx=".5" fill="#5e5e5e" transform="rotate(-30 363.0 4.4)"/><rect x="232.8" y="18.1" width="1.5" height="1" rx=".5" fill="#9c9c9c" transform="rotate(-45 233.5 18.6)"/><rect x="332.5" y="4.4" width="1" height="1.5" rx=".5" fill="#5e5e5e" transform="rotate(0 333.0 5.2)"/><rect x="26.2" y="3.1" width="1" height="1.5" rx=".5" fill="#9c9c9c" transform="rotate(-30 26.7 3.8)"/><rect x="295.5" y="3.0" width="1" height="1" rx=".5" fill="#6a6a6a" transform="rotate(0 296.0 3.5)"/><rect x="285.7" y="16.5" width="1" height="1.5" rx=".5" fill="#5e5e5e" transform="rotate(-45 286.2 17.2)"/><rect x="203.5" y="9.6" width="1.5" height="1.5" rx=".5" fill="#6a6a6a" transform="rotate(45 204.3 10.3)"/><rect x="456.6" y="24.6" width="2" height="1" rx=".5" fill="#6a6a6a" transform="rotate(0 457.6 25.1)"/><rect x="418.2" y="19.7" width="2" height="1" rx=".5" fill="#848484" transform="rotate(60 419.2 20.2)"/><rect x="291.1" y="22.1" width="2.5" height="1.5" rx=".5" fill="#8e8e8e" transform="rotate(-45 292.3 22.9)"/><rect x="414.5" y="0.6" width="1.5" height="1" rx=".5" fill="#8e8e8e" transform="rotate(-30 415.3 1.1)"/><rect x="158.0" y="10.0" width="1" height="1" rx=".5" fill="#8e8e8e" transform="rotate(60 158.5 10.5)"/><rect x="66.6" y="4.6" width="1.5" height="1" rx=".5" fill="#9c9c9c" transform="rotate(-30 67.3 5.1)"/><rect x="1.4" y="19.4" width="2.5" height="2" rx=".5" fill="#5e5e5e" transform="rotate(-45 2.7 20.4)"/><rect x="373.8" y="10.4" width="2" height="1" rx=".5" fill="#8e8e8e" transform="rotate(45 374.8 10.9)"/><rect x="341.4" y="9.8" width="1.5" height="2" rx=".5" fill="#8e8e8e" transform="rotate(0 342.1 10.8)"/><rect x="148.1" y="9.5" width="1.5" height="1" rx=".5" fill="#9c9c9c" transform="rotate(-45 148.9 10.0)"/><rect x="287.8" y="0.2" width="2" height="1.5" rx=".5" fill="#787878" transform="rotate(-30 288.8 0.9)"/><rect x="354.8" y="6.4" width="2" height="1.5" rx=".5" fill="#6a6a6a" transform="rotate(60 355.8 7.2)"/><rect x="402.0" y="12.2" width="1.5" height="1" rx=".5" fill="#848484" transform="rotate(-45 402.7 12.7)"/><rect x="354.3" y="3.9" width="2.5" height="1" rx=".5" fill="#8e8e8e" transform="rotate(45 355.5 4.4)"/><rect x="425.2" y="14.6" width="1.5" height="1" rx=".5" fill="#5e5e5e" transform="rotate(60 426.0 15.1)"/><rect x="364.2" y="2.8" width="1.5" height="1" rx=".5" fill="#8e8e8e" transform="rotate(-45 365.0 3.3)"/><rect x="203.4" y="21.6" width="2.5" height="1.5" rx=".5" fill="#5e5e5e" transform="rotate(-30 204.7 22.3)"/><rect x="210.5" y="9.0" width="1" height="1.5" rx=".5" fill="#9c9c9c" transform="rotate(30 211.0 9.8)"/><rect x="100.4" y="16.0" width="1.5" height="1.5" rx=".5" fill="#6a6a6a" transform="rotate(60 101.1 16.8)"/><rect x="442.1" y="24.1" width="1.5" height="2" rx=".5" fill="#9c9c9c" transform="rotate(-45 442.8 25.1)"/><rect x="303.2" y="6.8" width="2" height="1.5" rx=".5" fill="#848484" transform="rotate(-30 304.2 7.6)"/><rect x="445.6" y="11.8" width="1" height="1" rx=".5" fill="#9c9c9c" transform="rotate(-45 446.1 12.3)"/><rect x="68.0" y="16.4" width="1" height="2" rx=".5" fill="#8e8e8e" transform="rotate(-30 68.5 17.4)"/><rect x="346.7" y="3.3" width="2" height="1.5" rx=".5" fill="#6a6a6a" transform="rotate(30 347.7 4.0)"/><rect x="382.0" y="1.1" width="1.5" height="1" rx=".5" fill="#5e5e5e" transform="rotate(0 382.7 1.6)"/><rect x="399.3" y="22.1" width="1" height="1" rx=".5" fill="#848484" transform="rotate(60 399.8 22.6)"/><rect x="219.5" y="17.6" width="2" height="1.5" rx=".5" fill="#787878" transform="rotate(-45 220.5 18.3)"/><rect x="437.5" y="4.8" width="1" height="1" rx=".5" fill="#9c9c9c" transform="rotate(0 438.0 5.3)"/><rect x="393.2" y="6.7" width="1" height="1" rx=".5" fill="#6a6a6a" transform="rotate(45 393.7 7.2)"/><rect x="401.9" y="5.8" width="1.5" height="1" rx=".5" fill="#6a6a6a" transform="rotate(0 402.7 6.3)"/><rect x="424.4" y="15.3" width="2.5" height="1" rx=".5" fill="#9c9c9c" transform="rotate(45 425.6 15.8)"/><rect x="249.7" y="21.2" width="1.5" height="1" rx=".5" fill="#5e5e5e" transform="rotate(45 250.5 21.7)"/><rect x="428.0" y="20.0" width="2" height="1" rx=".5" fill="#9c9c9c" transform="rotate(45 429.0 20.5)"/><rect x="108.1" y="11.1" width="2.5" height="2" rx=".5" fill="#6a6a6a" transform="rotate(30 109.3 12.1)"/><rect x="74.8" y="16.7" width="2" height="1.5" rx=".5" fill="#848484" transform="rotate(0 75.8 17.5)"/><rect x="428.9" y="22.0" width="1.5" height="1.5" rx=".5" fill="#787878" transform="rotate(60 429.6 22.7)"/><rect x="171.7" y="13.3" width="2.5" height="2" rx=".5" fill="#787878" transform="rotate(0 172.9 14.3)"/><rect x="160.5" y="2.6" width="1.5" height="1" rx=".5" fill="#6a6a6a" transform="rotate(45 161.3 3.1)"/><rect x="272.8" y="23.4" width="1.5" height="2" rx=".5" fill="#8e8e8e" transform="rotate(0 273.6 24.4)"/><rect x="147.2" y="0.7" width="1" height="1.5" rx=".5" fill="#5e5e5e" transform="rotate(30 147.7 1.5)"/><rect x="212.8" y="9.1" width="2.5" height="1.5" rx=".5" fill="#848484" transform="rotate(-30 214.0 9.8)"/><rect x="92.3" y="23.7" width="2" height="1" rx=".5" fill="#787878" transform="rotate(0 93.3 24.2)"/><rect x="283.2" y="7.6" width="2" height="1" rx=".5" fill="#9c9c9c" transform="rotate(60 284.2 8.1)"/><rect x="29.7" y="0.5" width="2" height="1" rx=".5" fill="#6a6a6a" transform="rotate(60 30.7 1.0)"/><rect x="237.3" y="3.2" width="2.5" height="1" rx=".5" fill="#9c9c9c" transform="rotate(0 238.5 3.7)"/><rect x="320.9" y="22.4" width="1" height="2" rx=".5" fill="#9c9c9c" transform="rotate(-30 321.4 23.4)"/><rect x="0.6" y="1.5" width="1.5" height="1" rx=".5" fill="#787878" transform="rotate(30 1.3 2.0)"/><rect x="419.4" y="17.0" width="2" height="1.5" rx=".5" fill="#787878" transform="rotate(-30 420.4 17.7)"/><rect x="276.5" y="19.9" width="1" height="2" rx=".5" fill="#6a6a6a" transform="rotate(0 277.0 20.9)"/><rect x="425.0" y="5.8" width="1" height="1" rx=".5" fill="#787878" transform="rotate(60 425.5 6.3)"/><rect x="412.7" y="12.6" width="1.5" height="1.5" rx=".5" fill="#848484" transform="rotate(-30 413.4 13.4)"/><rect x="12.1" y="14.6" width="2" height="1.5" rx=".5" fill="#5e5e5e" transform="rotate(-45 13.1 15.4)"/><rect x="350.0" y="6.6" width="1" height="1.5" rx=".5" fill="#787878" transform="rotate(-45 350.5 7.4)"/><rect x="310.4" y="23.3" width="1" height="1.5" rx=".5" fill="#8e8e8e" transform="rotate(60 310.9 24.1)"/><rect x="306.0" y="4.0" width="2" height="1.5" rx=".5" fill="#8e8e8e" transform="rotate(0 307.0 4.7)"/><rect x="168.1" y="21.8" width="1.5" height="2" rx=".5" fill="#6a6a6a" transform="rotate(0 168.9 22.8)"/><rect x="73.7" y="3.9" width="2" height="1" rx=".5" fill="#6a6a6a" transform="rotate(30 74.7 4.4)"/><rect x="235.3" y="14.1" width="2" height="1.5" rx=".5" fill="#848484" transform="rotate(45 236.3 14.8)"/><rect x="254.9" y="0.7" width="1" height="1" rx=".5" fill="#848484" transform="rotate(0 255.4 1.2)"/><rect x="111.0" y="18.5" width="1" height="1.5" rx=".5" fill="#6a6a6a" transform="rotate(-45 111.5 19.3)"/><rect x="43.2" y="11.7" width="1.5" height="1.5" rx=".5" fill="#787878" transform="rotate(45 43.9 12.4)"/><rect x="358.3" y="5.7" width="2" height="1" rx=".5" fill="#848484" transform="rotate(60 359.3 6.2)"/><rect x="112.0" y="1.2" width="1" height="1" rx=".5" fill="#5e5e5e" transform="rotate(30 112.5 1.7)"/><rect x="38.5" y="8.1" width="1" height="1.5" rx=".5" fill="#9c9c9c" transform="rotate(0 39.0 8.9)"/><rect x="198.2" y="7.6" width="2" height="1.5" rx=".5" fill="#6a6a6a" transform="rotate(-30 199.2 8.3)"/><rect x="72.3" y="7.8" width="1.5" height="1" rx=".5" fill="#9c9c9c" transform="rotate(60 73.1 8.3)"/><rect x="201.1" y="4.1" width="1" height="1.5" rx=".5" fill="#5e5e5e" transform="rotate(-45 201.6 4.8)"/><rect x="343.9" y="18.4" width="2.5" height="1" rx=".5" fill="#787878" transform="rotate(60 345.2 18.9)"/><rect x="18.1" y="1.5" width="2" height="1" rx=".5" fill="#8e8e8e" transform="rotate(45 19.1 2.0)"/><rect x="78.6" y="16.4" width="1.5" height="1.5" rx=".5" fill="#9c9c9c" transform="rotate(45 79.3 17.1)"/><rect x="42.9" y="22.3" width="1" height="1" rx=".5" fill="#9c9c9c" transform="rotate(45 43.4 22.8)"/><rect x="46.9" y="10.0" width="2" height="1.5" rx=".5" fill="#787878" transform="rotate(30 47.9 10.8)"/><rect x="116.1" y="16.4" width="1.5" height="1" rx=".5" fill="#5e5e5e" transform="rotate(45 116.9 16.9)"/><rect x="195.4" y="20.9" width="1" height="1" rx=".5" fill="#5e5e5e" transform="rotate(0 195.9 21.4)"/><rect x="26.4" y="5.0" width="1.5" height="1" rx=".5" fill="#848484" transform="rotate(60 27.2 5.5)"/><rect x="319.1" y="6.2" width="1" height="1.5" rx=".5" fill="#8e8e8e" transform="rotate(-45 319.6 7.0)"/><rect x="209.6" y="1.6" width="2" height="1.5" rx=".5" fill="#6a6a6a" transform="rotate(0 210.6 2.3)"/><rect x="31.0" y="11.0" width="2" height="1" rx=".5" fill="#9c9c9c" transform="rotate(0 32.0 11.5)"/><rect x="271.1" y="24.1" width="1" height="1" rx=".5" fill="#5e5e5e" transform="rotate(-45 271.6 24.6)"/><rect x="150.5" y="1.4" width="2" height="1.5" rx=".5" fill="#787878" transform="rotate(0 151.5 2.1)"/><rect x="325.7" y="9.0" width="2" height="1.5" rx=".5" fill="#6a6a6a" transform="rotate(45 326.7 9.7)"/><rect x="205.4" y="-0.1" width="1" height="2" rx=".5" fill="#9c9c9c" transform="rotate(45 205.9 0.9)"/><rect x="405.6" y="15.6" width="1" height="1.5" rx=".5" fill="#9c9c9c" transform="rotate(0 406.1 16.3)"/><rect x="53.5" y="9.6" width="2" height="1" rx=".5" fill="#5e5e5e" transform="rotate(0 54.5 10.1)"/><rect x="19.1" y="8.7" width="2.5" height="1.5" rx=".5" fill="#8e8e8e" transform="rotate(30 20.3 9.4)"/><rect x="396.6" y="18.1" width="2" height="2" rx=".5" fill="#848484" transform="rotate(-30 397.6 19.1)"/><rect x="367.7" y="20.8" width="2" height="1" rx=".5" fill="#787878" transform="rotate(60 368.7 21.3)"/><rect x="95.8" y="17.8" width="1" height="1.5" rx=".5" fill="#787878" transform="rotate(60 96.3 18.5)"/><rect x="261.7" y="24.2" width="2" height="1.5" rx=".5" fill="#9c9c9c" transform="rotate(60 262.7 25.0)"/><rect x="60.1" y="0.3" width="1.5" height="2" rx=".5" fill="#6a6a6a" transform="rotate(0 60.9 1.3)"/><rect x="248.7" y="6.8" width="2.5" height="1.5" rx=".5" fill="#787878" transform="rotate(60 249.9 7.5)"/><rect x="222.7" y="17.0" width="2.5" height="2" rx=".5" fill="#8e8e8e" transform="rotate(45 223.9 18.0)"/><rect x="254.4" y="7.5" width="2.5" height="1" rx=".5" fill="#787878" transform="rotate(45 255.7 8.0)"/><rect x="149.9" y="16.7" width="2" height="1.5" rx=".5" fill="#787878" transform="rotate(-30 150.9 17.4)"/><rect x="142.9" y="8.8" width="2.5" height="1.5" rx=".5" fill="#9c9c9c" transform="rotate(-30 144.2 9.6)"/><rect x="96.5" y="5.8" width="2.5" height="1.5" rx=".5" fill="#9c9c9c" transform="rotate(-30 97.8 6.5)"/><rect x="316.6" y="15.8" width="2" height="1" rx=".5" fill="#787878" transform="rotate(60 317.6 16.3)"/><rect x="28.5" y="8.8" width="1" height="1.5" rx=".5" fill="#8e8e8e" transform="rotate(60 29.0 9.6)"/><rect x="417.1" y="21.5" width="1.5" height="1" rx=".5" fill="#787878" transform="rotate(30 417.9 22.0)"/><rect x="221.0" y="17.9" width="2" height="1" rx=".5" fill="#848484" transform="rotate(0 222.0 18.4)"/><rect x="172.9" y="6.9" width="1.5" height="1" rx=".5" fill="#9c9c9c" transform="rotate(0 173.7 7.4)"/><rect x="419.2" y="20.8" width="2.5" height="1.5" rx=".5" fill="#787878" transform="rotate(45 420.4 21.5)"/><rect x="72.4" y="4.1" width="2" height="1" rx=".5" fill="#9c9c9c" transform="rotate(0 73.4 4.6)"/><rect x="164.7" y="1.8" width="2" height="1" rx=".5" fill="#787878" transform="rotate(0 165.7 2.3)"/><rect x="399.2" y="21.8" width="1.5" height="1.5" rx=".5" fill="#6a6a6a" transform="rotate(0 399.9 22.5)"/><rect x="362.4" y="9.4" width="1" height="1" rx=".5" fill="#787878" transform="rotate(45 362.9 9.9)"/><rect x="239.2" y="24.6" width="1.5" height="1" rx=".5" fill="#848484" transform="rotate(45 239.9 25.1)"/><rect x="86.7" y="19.1" width="2" height="1.5" rx=".5" fill="#5e5e5e" transform="rotate(-45 87.7 19.9)"/><rect x="150.6" y="2.9" width="1" height="2" rx=".5" fill="#9c9c9c" transform="rotate(0 151.1 3.9)"/><rect x="96.5" y="13.9" width="2" height="2" rx=".5" fill="#6a6a6a" transform="rotate(30 97.5 14.9)"/><rect x="45.4" y="17.6" width="2.5" height="1" rx=".5" fill="#6a6a6a" transform="rotate(45 46.6 18.1)"/><rect x="274.6" y="14.3" width="1.5" height="1" rx=".5" fill="#5e5e5e" transform="rotate(60 275.3 14.8)"/><rect x="152.1" y="16.0" width="2" height="1" rx=".5" fill="#8e8e8e" transform="rotate(45 153.1 16.5)"/><rect x="57.1" y="5.2" width="1.5" height="1.5" rx=".5" fill="#787878" transform="rotate(0 57.9 6.0)"/><rect x="422.9" y="3.1" width="1.5" height="1" rx=".5" fill="#9c9c9c" transform="rotate(-45 423.7 3.6)"/><rect x="198.1" y="8.2" width="1" height="1.5" rx=".5" fill="#9c9c9c" transform="rotate(0 198.6 8.9)"/><rect x="243.5" y="13.5" width="1.5" height="1.5" rx=".5" fill="#848484" transform="rotate(-45 244.2 14.2)"/><rect x="334.9" y="11.7" width="1" height="1" rx=".5" fill="#9c9c9c" transform="rotate(45 335.4 12.2)"/><rect x="216.7" y="14.4" width="1" height="2" rx=".5" fill="#848484" transform="rotate(60 217.2 15.4)"/><rect x="448.5" y="3.9" width="1" height="1.5" rx=".5" fill="#9c9c9c" transform="rotate(45 449.0 4.7)"/><rect x="440.1" y="21.5" width="1.5" height="1.5" rx=".5" fill="#6a6a6a" transform="rotate(-30 440.8 22.2)"/><rect x="1.0" y="2.6" width="1" height="1" rx=".5" fill="#787878" transform="rotate(0 1.5 3.1)"/><rect x="202.6" y="12.4" width="1.5" height="1.5" rx=".5" fill="#8e8e8e" transform="rotate(30 203.4 13.2)"/><rect x="460.0" y="3.9" width="2" height="2" rx=".5" fill="#848484" transform="rotate(0 461.0 4.9)"/><rect x="174.4" y="21.3" width="1" height="1" rx=".5" fill="#848484" transform="rotate(30 174.9 21.8)"/><rect x="397.2" y="14.5" width="2" height="2" rx=".5" fill="#787878" transform="rotate(30 398.2 15.5)"/><rect x="356.6" y="15.1" width="2" height="1.5" rx=".5" fill="#5e5e5e" transform="rotate(30 357.6 15.9)"/><rect x="307.6" y="13.3" width="1.5" height="1" rx=".5" fill="#787878" transform="rotate(-30 308.4 13.8)"/><rect x="396.1" y="8.6" width="1.5" height="1" rx=".5" fill="#787878" transform="rotate(0 396.8 9.1)"/><rect x="188.1" y="4.3" width="2" height="1" rx=".5" fill="#9c9c9c" transform="rotate(60 189.1 4.8)"/><rect x="209.3" y="10.2" width="1" height="1" rx=".5" fill="#9c9c9c" transform="rotate(45 209.8 10.7)"/><rect x="76.4" y="22.7" width="2.5" height="1" rx=".5" fill="#5e5e5e" transform="rotate(45 77.7 23.2)"/><rect x="102.5" y="23.5" width="2" height="1.5" rx=".5" fill="#9c9c9c" transform="rotate(0 103.5 24.2)"/><rect x="233.1" y="11.3" width="1" height="2" rx=".5" fill="#6a6a6a" transform="rotate(0 233.6 12.3)"/><rect x="302.4" y="16.7" width="1.5" height="2" rx=".5" fill="#6a6a6a" transform="rotate(-30 303.1 17.7)"/><rect x="287.0" y="4.2" width="2" height="1.5" rx=".5" fill="#787878" transform="rotate(60 288.0 5.0)"/><rect x="250.0" y="17.3" width="2" height="2" rx=".5" fill="#5e5e5e" transform="rotate(0 251.0 18.3)"/><rect x="128.4" y="7.1" width="1" height="2" rx=".5" fill="#8e8e8e" transform="rotate(-45 128.9 8.1)"/><rect x="365.8" y="14.0" width="1" height="1.5" rx=".5" fill="#9c9c9c" transform="rotate(-45 366.3 14.7)"/><rect x="149.2" y="3.1" width="2.5" height="1.5" rx=".5" fill="#848484" transform="rotate(45 150.5 3.9)"/><rect x="257.9" y="4.3" width="1" height="1" rx=".5" fill="#5e5e5e" transform="rotate(60 258.4 4.8)"/><rect x="292.5" y="14.2" width="2" height="2" rx=".5" fill="#9c9c9c" transform="rotate(0 293.5 15.2)"/><rect x="125.5" y="20.4" width="1" height="2" rx=".5" fill="#5e5e5e" transform="rotate(0 126.0 21.4)"/><rect x="290.1" y="5.7" width="1" height="1.5" rx=".5" fill="#8e8e8e" transform="rotate(0 290.6 6.4)"/><rect x="404.0" y="5.0" width="2" height="1.5" rx=".5" fill="#8e8e8e" transform="rotate(0 405.0 5.8)"/><rect x="61.8" y="9.4" width="1" height="1" rx=".5" fill="#8e8e8e" transform="rotate(-30 62.3 9.9)"/><rect x="56.4" y="3.9" width="1.5" height="1.5" rx=".5" fill="#787878" transform="rotate(-30 57.2 4.7)"/><rect x="424.4" y="21.0" width="1.5" height="2" rx=".5" fill="#787878" transform="rotate(60 425.1 22.0)"/><rect x="434.0" y="19.8" width="2" height="1.5" rx=".5" fill="#6a6a6a" transform="rotate(30 435.0 20.6)"/><rect x="42.4" y="22.6" width="2" height="1.5" rx=".5" fill="#8e8e8e" transform="rotate(60 43.4 23.4)"/><rect x="403.8" y="3.3" width="2" height="2" rx=".5" fill="#848484" transform="rotate(45 404.8 4.3)"/><rect x="368.7" y="11.4" width="1" height="1" rx=".5" fill="#787878" transform="rotate(30 369.2 11.9)"/><rect x="349.3" y="20.6" width="1" height="1" rx=".5" fill="#9c9c9c" transform="rotate(30 349.8 21.1)"/><rect x="185.8" y="5.5" width="1" height="1.5" rx=".5" fill="#787878" transform="rotate(45 186.3 6.3)"/><rect x="239.1" y="12.0" width="1" height="2" rx=".5" fill="#9c9c9c" transform="rotate(-45 239.6 13.0)"/><rect x="410.8" y="9.0" width="1" height="1" rx=".5" fill="#787878" transform="rotate(45 411.3 9.5)"/><rect x="343.1" y="16.4" width="1.5" height="1" rx=".5" fill="#8e8e8e" transform="rotate(-45 343.9 16.9)"/><rect x="72.0" y="22.2" width="1.5" height="2" rx=".5" fill="#6a6a6a" transform="rotate(-45 72.8 23.2)"/><rect x="444.2" y="16.0" width="1" height="1.5" rx=".5" fill="#8e8e8e" transform="rotate(-45 444.7 16.7)"/><rect x="422.2" y="6.7" width="1.5" height="1" rx=".5" fill="#848484" transform="rotate(30 423.0 7.2)"/><rect x="176.8" y="14.2" width="1" height="1.5" rx=".5" fill="#848484" transform="rotate(-45 177.3 14.9)"/><rect x="0.6" y="19.8" width="1.5" height="1" rx=".5" fill="#8e8e8e" transform="rotate(60 1.4 20.3)"/><rect x="282.1" y="15.6" width="1" height="1" rx=".5" fill="#787878" transform="rotate(-30 282.6 16.1)"/><rect x="404.1" y="19.2" width="2" height="1.5" rx=".5" fill="#848484" transform="rotate(45 405.1 20.0)"/><rect x="391.1" y="17.7" width="1.5" height="1" rx=".5" fill="#5e5e5e" transform="rotate(0 391.8 18.2)"/><rect x="193.2" y="12.5" width="1" height="1.5" rx=".5" fill="#6a6a6a" transform="rotate(-30 193.7 13.2)"/><rect x="406.4" y="9.8" width="1" height="1" rx=".5" fill="#6a6a6a" transform="rotate(-30 406.9 10.3)"/><rect x="270.6" y="4.4" width="1.5" height="2" rx=".5" fill="#8e8e8e" transform="rotate(0 271.3 5.4)"/><rect x="205.5" y="12.6" width="2.5" height="1" rx=".5" fill="#5e5e5e" transform="rotate(-45 206.7 13.1)"/><rect x="92.7" y="0.7" width="2.5" height="2" rx=".5" fill="#5e5e5e" transform="rotate(60 93.9 1.7)"/><rect x="203.9" y="20.5" width="1.5" height="2" rx=".5" fill="#6a6a6a" transform="rotate(60 204.7 21.5)"/><rect x="80.6" y="8.5" width="1" height="1.5" rx=".5" fill="#5e5e5e" transform="rotate(-30 81.1 9.3)"/><rect x="73.7" y="7.3" width="1.5" height="2" rx=".5" fill="#9c9c9c" transform="rotate(-45 74.4 8.3)"/><rect x="46.7" y="20.8" width="2.5" height="1" rx=".5" fill="#6a6a6a" transform="rotate(0 47.9 21.3)"/><rect x="95.8" y="6.5" width="2.5" height="1" rx=".5" fill="#787878" transform="rotate(45 97.0 7.0)"/><rect x="85.3" y="0.3" width="1.5" height="1" rx=".5" fill="#787878" transform="rotate(0 86.0 0.8)"/><rect x="369.8" y="17.9" width="1" height="1" rx=".5" fill="#5e5e5e" transform="rotate(0 370.3 18.4)"/><rect x="153.9" y="2.7" width="2" height="1.5" rx=".5" fill="#5e5e5e" transform="rotate(0 154.9 3.4)"/><rect x="97.3" y="0.9" width="2.5" height="1.5" rx=".5" fill="#848484" transform="rotate(-30 98.5 1.7)"/><rect x="436.4" y="9.6" width="1.5" height="1.5" rx=".5" fill="#5e5e5e" transform="rotate(60 437.2 10.4)"/><rect x="444.3" y="12.5" width="1.5" height="1.5" rx=".5" fill="#8e8e8e" transform="rotate(-45 445.1 13.3)"/><rect x="248.7" y="18.8" width="1.5" height="1" rx=".5" fill="#848484" transform="rotate(-45 249.5 19.3)"/><rect x="190.7" y="16.4" width="2" height="1" rx=".5" fill="#848484" transform="rotate(60 191.7 16.9)"/><rect x="422.7" y="24.6" width="2" height="1" rx=".5" fill="#5e5e5e" transform="rotate(-30 423.7 25.1)"/><rect x="173.0" y="21.8" width="1" height="1" rx=".5" fill="#787878" transform="rotate(-30 173.5 22.3)"/><rect x="229.0" y="3.9" width="1" height="1.5" rx=".5" fill="#6a6a6a" transform="rotate(-45 229.5 4.7)"/><rect x="140.3" y="17.7" width="2" height="1" rx=".5" fill="#6a6a6a" transform="rotate(-30 141.3 18.2)"/><rect x="184.1" y="0.4" width="1.5" height="1" rx=".5" fill="#848484" transform="rotate(45 184.9 0.9)"/><rect x="337.8" y="12.7" width="1" height="1.5" rx=".5" fill="#5e5e5e" transform="rotate(0 338.3 13.5)"/><rect x="22.8" y="2.0" width="1" height="1.5" rx=".5" fill="#787878" transform="rotate(-45 23.3 2.7)"/><rect x="256.0" y="20.0" width="1" height="1" rx=".5" fill="#9c9c9c" transform="rotate(-30 256.5 20.5)"/><rect x="32.0" y="22.9" width="1" height="1.5" rx=".5" fill="#9c9c9c" transform="rotate(0 32.5 23.6)"/><rect x="288.5" y="15.6" width="2" height="1.5" rx=".5" fill="#5e5e5e" transform="rotate(0 289.5 16.3)"/><rect x="244.9" y="7.4" width="1.5" height="1.5" rx=".5" fill="#5e5e5e" transform="rotate(45 245.7 8.1)"/><rect x="434.1" y="9.3" width="1" height="1.5" rx=".5" fill="#848484" transform="rotate(-30 434.6 10.1)"/><rect x="333.4" y="9.0" width="2" height="2" rx=".5" fill="#787878" transform="rotate(-45 334.4 10.0)"/><rect x="51.1" y="1.1" width="1.5" height="1.5" rx=".5" fill="#6a6a6a" transform="rotate(0 51.9 1.8)"/><rect x="206.3" y="18.7" width="1.5" height="1.5" rx=".5" fill="#6a6a6a" transform="rotate(60 207.1 19.4)"/><rect x="243.3" y="10.7" width="1.5" height="1" rx=".5" fill="#5e5e5e" transform="rotate(60 244.0 11.2)"/><rect x="7.3" y="2.0" width="2" height="1.5" rx=".5" fill="#9c9c9c" transform="rotate(-45 8.3 2.8)"/><rect x="141.5" y="14.6" width="2" height="1" rx=".5" fill="#5e5e5e" transform="rotate(-45 142.5 15.1)"/><rect x="50.7" y="7.7" width="2" height="1" rx=".5" fill="#848484" transform="rotate(30 51.7 8.2)"/></g>
<rect x="164" y="511" width="350" height="1" fill="#8a8a8a" fill-opacity=".4"/>
<rect x="163.5" y="502.5" width="470" height="25.800" fill="none" stroke="#2a2a2a" stroke-width="1"/>
</g>

<!-- stack pipe -->
<g stroke-linejoin="round">
<path d="M224.2 74.6 L224.2 436 L255.6 436 L255.6 75 C254.4 72.8 250.5 72.1 247.4 72.2 C243.6 72.4 241.6 74.4 239 75.2 C236 77.2 226 77.4 224.2 74.6 Z" fill="url(#gPipe)" stroke="#333" stroke-width="1.1"/>
<ellipse cx="231.6" cy="74.6" rx="7.4" ry="2.2" fill="#f6f6f6" stroke="#222" stroke-width="1.1"/>
<rect x="223.3" y="74.6" width="1.8" height="361.4" fill="#505050"/>
<rect x="255" y="75" width="1.7" height="361" fill="#555"/>
</g>

<!-- duct from fan to filter -->
<g stroke="#222" stroke-width="1.1" stroke-linejoin="round">
<rect x="343.3" y="191.3" width="44.5" height="22.3" fill="url(#gDuct)" stroke-width="1.3"/>
<rect x="343.3" y="213.6" width="32.2" height="226.6" fill="url(#gDuct)"/>
<rect x="288" y="455.4" width="39.8" height="32.6" fill="url(#gHd)" stroke="none"/>
<path d="M288 455.4 L327.8 455.4 M288 488 L327.8 488" fill="none" stroke="#666" stroke-width="1"/>
<path d="M343.3 440.2 L375.5 440.2 C375.5 467 354 488 327.8 488 L327.8 455.4 C336.500 455.4 343.3 448.6 343.3 440.2 Z" fill="url(#gElb)" stroke-width="1.2"/>
<path d="M339.8 219.8 L378.6 219.8" stroke-width="1.6" fill="none" stroke="#111"/>
</g>

<!-- filter housing -->
<g stroke="#1a1a1a" stroke-linejoin="round">
<rect x="388" y="189.6" width="95.8" height="185.4" fill="url(#gBlue)" stroke-width="1.3"/>
<path d="M392 189.6 L392 187.3 L478.6 187.3 L478.6 189.6 Z" fill="url(#gBlue)" stroke-width="1.2"/>
<path d="M402 185 L402 189.6 M466.5 185 L466.5 189.6" fill="none" stroke-width="1.4"/>
<path d="M388 215.5 L487.5 215.5" fill="none" stroke-width=".9"/>
<rect x="393.5" y="220.6" width="85" height="10" fill="url(#gBlue)" stroke-width="1"/>
<path d="M393.200 231.100 L430 231.100" fill="none" stroke="#000" stroke-width="1.900"/>
<rect x="396.100" y="231" width="2.700" height="3.700" fill="#000" stroke="none"/>
<rect x="479.2" y="224" width="2.6" height="3" fill="#111" stroke="none"/>
<path d="M388 278.5 L483.8 278.5" fill="none" stroke-width="1"/>
<path d="M388 189.6 L388 314" fill="none" stroke="#000" stroke-width="1.7"/>
<path d="M388 339.800 L483.800 339.800 L487.400 343.100 L483.800 346.400 L388 346.400 L384.400 343.100 Z" fill="url(#gBlueU)" stroke="#222" stroke-width="1.1"/>
<path d="M384.400 343.100 L487.400 343.100" fill="none" stroke="#222" stroke-width="1"/>
<path d="M384.200 343.100 L386 341.700 L386 344.500 Z M487.600 343.100 L485.800 341.700 L485.800 344.500 Z" fill="#111" stroke="none"/>
</g>
<g transform="translate(397.50,0)"><circle cx="0" cy="210.8" r="3.4" fill="#111"/><rect x="-1.6" y="213" width="3.2" height="6.5" fill="#111"/><rect x="-2.4" y="216.2" width="4.8" height="1.6" fill="#111"/><rect x="-0.5" y="218.6" width="1" height="1.6" fill="#ddd"/></g><g transform="translate(408.40,0)"><circle cx="0" cy="210.8" r="3.4" fill="#111"/><rect x="-1.6" y="213" width="3.2" height="6.5" fill="#111"/><rect x="-2.4" y="216.2" width="4.8" height="1.6" fill="#111"/><rect x="-0.5" y="218.6" width="1" height="1.6" fill="#ddd"/></g><g transform="translate(419.30,0)"><circle cx="0" cy="210.8" r="3.4" fill="#111"/><rect x="-1.6" y="213" width="3.2" height="6.5" fill="#111"/><rect x="-2.4" y="216.2" width="4.8" height="1.6" fill="#111"/><rect x="-0.5" y="218.6" width="1" height="1.6" fill="#ddd"/></g><g transform="translate(430.20,0)"><circle cx="0" cy="210.8" r="3.4" fill="#111"/><rect x="-1.6" y="213" width="3.2" height="6.5" fill="#111"/><rect x="-2.4" y="216.2" width="4.8" height="1.6" fill="#111"/><rect x="-0.5" y="218.6" width="1" height="1.6" fill="#ddd"/></g><g transform="translate(441.10,0)"><circle cx="0" cy="210.8" r="3.4" fill="#111"/><rect x="-1.6" y="213" width="3.2" height="6.5" fill="#111"/><rect x="-2.4" y="216.2" width="4.8" height="1.6" fill="#111"/><rect x="-0.5" y="218.6" width="1" height="1.6" fill="#ddd"/></g><g transform="translate(452.00,0)"><circle cx="0" cy="210.8" r="3.4" fill="#111"/><rect x="-1.6" y="213" width="3.2" height="6.5" fill="#111"/><rect x="-2.4" y="216.2" width="4.8" height="1.6" fill="#111"/><rect x="-0.5" y="218.6" width="1" height="1.6" fill="#ddd"/></g><g transform="translate(462.90,0)"><circle cx="0" cy="210.8" r="3.4" fill="#111"/><rect x="-1.6" y="213" width="3.2" height="6.5" fill="#111"/><rect x="-2.4" y="216.2" width="4.8" height="1.6" fill="#111"/><rect x="-0.5" y="218.6" width="1" height="1.6" fill="#ddd"/></g><g transform="translate(473.80,0)"><circle cx="0" cy="210.8" r="3.4" fill="#111"/><rect x="-1.6" y="213" width="3.2" height="6.5" fill="#111"/><rect x="-2.4" y="216.2" width="4.8" height="1.6" fill="#111"/><rect x="-0.5" y="218.6" width="1" height="1.6" fill="#ddd"/></g>

<!-- legs + hopper -->
<g stroke="#1a1a1a" stroke-linejoin="round" stroke-width="1">
<path d="M387.900 375 L400.600 375 L394.600 502 L387.900 502 Z" fill="#c8c8c8" stroke-width="1.200"/>
<path d="M484 375 L471.500 375 L477.400 502 L484 502 Z" fill="#c8c8c8" stroke-width="1.200"/>
<path d="M386.400 502.300 L389 502.300 M393.600 502.300 L396.400 502.300 M476 502.300 L478.600 502.300 M483 502.300 L485.800 502.300" stroke="#000" stroke-width="1.600" fill="none"/>
<path d="M400.3 375 L471.7 375 L472.6 396.6 L442.3 448.6 L429.6 448.6 L399.4 396.6 Z" fill="url(#gBlueU)" stroke="none"/>
<path d="M472.500 396.600 L442.300 448.600 L429.600 448.600 L399.500 396.600" fill="none" stroke="#0a0a0a" stroke-width="1.450"/>
<path d="M466.500 406.300 L472.600 406.300" fill="none" stroke="#666" stroke-width="1"/>
<path d="M409.5 412.7 L462 412.7" fill="none" stroke-width="1"/>
<path d="M388 375 L483.8 375" fill="none" stroke-width="1.4"/>
<path d="M425.800 452.200 L446.200 452.200" fill="none" stroke-width="1.400"/>
<rect x="429.600" y="448.600" width="12.800" height="5.800" fill="#cfe7f4"/>
<rect x="426.400" y="454.400" width="19.500" height="16.800" rx="1" fill="url(#gBlueU)" stroke-width="1.200"/>
<rect x="429.500" y="471.200" width="13" height="3" fill="#cfe7f4"/>
<!-- inlet -->
<path d="M483.800 375.100 L488.800 375.100 M483.800 406.300 L488.800 406.300" fill="none" stroke-width="1" stroke="#444"/>
<path d="M488.800 371.600 L488.800 410.400" fill="none" stroke-width="1.100" stroke="#444"/>
</g>

<!-- fan -->
<g stroke="#0c1c0c" stroke-width="1.1" stroke-linejoin="round" fill="#4a9a40">
<rect x="221.3" y="436.1" width="37.6" height="2.3" stroke-width="1.3"/>
<rect x="224.3" y="438.4" width="30.9" height="58" stroke="#1c3c1c" stroke-width=".9"/>
<rect x="227.200" y="438.400" width="25.800" height="58" stroke-width="1.200"/>
<rect x="281.4" y="453.3" width="6.2" height="38.6" stroke="#1c3c1c" stroke-width=".9"/>
<rect x="280" y="450.8" width="1.7" height="45.6" fill="#0c1c0c" stroke="none"/>
<path d="M259 455.800 L276 455.800 L280 460.600 L277 467 L259 467 L255.300 460.600 Z" stroke-width="1.400" fill="#46923a"/>
<path d="M256.5 460.7 L279.5 460.7" fill="none" stroke-width="1" stroke-dasharray="2 1"/>
<path d="M259 467 L277.500 467 L279.800 474.400 L258.200 474.400 Z" fill="#2f7429" stroke-width="1.500"/>
<ellipse cx="268.6" cy="472.4" rx="6.6" ry="1.7" fill="#4a9a40" stroke-width="1"/>
<rect x="258" y="474.5" width="22" height="21.9"/>
<rect x="222.2" y="496.4" width="66.2" height="3.1" stroke-width="1.3"/>
</g>
<g fill="#0a160a">
<circle cx="258.500" cy="454" r="1.700"/><circle cx="276.500" cy="454" r="1.700"/>
<circle cx="261.500" cy="460.800" r="1.550"/><circle cx="267.700" cy="460.800" r="1.550"/><circle cx="274.100" cy="460.800" r="1.550"/>
<circle cx="260.8" cy="468.6" r="1.2"/>
<circle cx="225.2" cy="448" r=".8"/><circle cx="225.2" cy="483" r=".8"/><circle cx="254.4" cy="448" r=".8"/><circle cx="254.4" cy="483" r=".8"/>
<path d="M222.3 499.5 L224.8 499.5 L225.4 502.3 L221.4 502.3 Z"/>
<path d="M254 499.5 L256.8 499.5 L257.6 502.3 L253.4 502.3 Z"/>
<path d="M286 499.5 L288.6 499.5 L289.5 502.3 L285.4 502.3 Z"/>
</g>

<!-- red arrows -->
<g fill="#ff0000" stroke="none">
<rect x="240" y="53" width="2.6" height="22"/>
<path d="M241.3 42.5 L236.6 54.4 L246 54.4 Z"/>
<rect x="489" y="209.3" width="21" height="2.5"/>
<path d="M477.8 210.5 L490 206 L490 215 Z"/>
<rect x="509.500" y="389.600" width="21" height="2.500"/>
<path d="M497.600 390.800 L510 386.400 L510 395.200 Z"/>
<rect x="456" y="473.5" width="21" height="2.5"/>
<path d="M444.8 474.7 L457 470.3 L457 479.1 Z"/>
</g>
<text class="lbl" x="228.300" y="37.600" style="font-weight:600">排气口</text>
<text class="lbl" x="509.600" y="214.400">脉冲控制阀</text>
<text class="lbl" x="530" y="395.500">粉尘进气口</text>
<text class="lbl" x="489" y="479">清灰口</text>

<!-- captions -->
<g fill="#fff" stroke="#222" stroke-width="1">
<rect x="187.500" y="538.300" width="60.300" height="24.400"/>
<rect x="190.600" y="541.500" width="54.200" height="18.400" stroke="#111" stroke-width="1.300"/>
<rect x="395.500" y="538.300" width="93" height="24.900"/>
<rect x="398.600" y="541.500" width="87" height="18.400" stroke="#111" stroke-width="1.300"/>
</g>
<text class="cap" x="203.100" y="554.100">风机</text>
<text class="cap" x="400.200" y="554.300">脉冲布袋除尘器</text>

<!-- level mark -->
<text class="blue" x="550" y="487.200">+0.40</text>
<path d="M564 491.5 L573 491.5 L568.5 503 Z" fill="#1b5a94"/>

<!-- watermark logo -->
<g transform="translate(40,60) scale(.125)" fill="#000" fill-opacity=".2">
<path fill-rule="evenodd" d="M99 330 C92 300 94 270 100 250 C124 140 222 60 348 60 C476 60 578 148 578 256 C578 290 570 318 557 342 C552 372 540 396 528 413 C510 440 488 462 464 477 C430 500 375 522 323 531 C322 508 326 486 336 470 C346 452 362 440 381 432 C400 422 420 417 438 410 C458 400 476 384 490 368 C524 340 546 306 544 270 C544 168 456 82 340 78 C212 76 116 168 106 284 C105 300 108 330 118 370 C150 405 180 430 208 440 C228 446 252 450 268 464 C282 476 288 495 285 517 C245 510 195 488 163 458 C130 425 104 370 99 330 Z M176 424 C190 444 208 456 232 464 C222 452 200 436 176 424 Z M400 446 C424 446 450 438 470 424 C446 430 420 436 400 446 Z M500 376 C516 366 534 350 546 330 C530 346 514 362 500 376 Z"/>
<path d="M166 210 C220 204 262 226 280 268 C284 280 284 292 282 300 L268 296 C262 280 250 262 236 250 C246 266 256 284 260 300 C226 296 196 270 180 240 C174 230 170 220 166 210 Z"/>
<path d="M470 146 C400 152 346 182 330 240 C326 258 326 276 330 292 L340 288 C350 262 370 232 396 208 C376 238 360 268 352 292 C400 280 440 246 458 198 C464 182 468 164 470 146 Z"/>
<path d="M300 300 C312 320 316 350 312 380 C310 396 304 404 296 410 L344 410 C334 402 330 390 330 376 C330 350 332 326 326 306 Z" fill-opacity=".14"/>
<path d="M234 406 L282 388 C292 422 350 422 362 388 L402 404 L320 468 Z"/>
</g>
<text class="wm1" x="125.500" y="102.100">协佳环保</text>
<text class="wm2" x="128.400" y="121.800">XIEJIA HUANBAO</text>

<!-- phone watermark -->
<g fill="none" stroke="#000" stroke-opacity=".5" stroke-width="2">
<rect x="523.300" y="482" width="25.700" height="39.300" rx="3.200"/>
<path d="M524.300 512 L548 512"/>
</g>
<circle cx="536" cy="516.800" r="1.700" fill="#000" fill-opacity=".5"/>
<text class="tel1" x="565.5 576.2 589.3 600.5 612.5 632.5 652.5 663.8 683.8 703.8 723.8" y="497">7×24小时 销售热线</text>
<text class="tel2" x="561" y="521.600">186-2609-1388</text>
</svg>
</body>
</html>
